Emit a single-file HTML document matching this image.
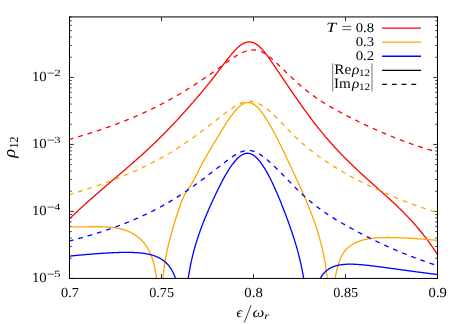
<!DOCTYPE html>
<html><head><meta charset="utf-8"><title>plot</title>
<style>html,body{margin:0;padding:0;background:#fff;overflow:hidden}svg{display:block}</style>
</head><body>
<svg width="463" height="324" viewBox="0 0 463 324">
<rect width="463" height="324" fill="#fff"/>
<defs><clipPath id="c"><rect x="69.50" y="16.93" width="368.00" height="261.50"/></clipPath></defs>
<g stroke="#000" stroke-width="0.8" fill="none">
<path d="M69.50,278.43 h4.30 M437.50,278.43 h-4.30 M69.50,258.26 h2.20 M437.50,258.26 h-2.20 M69.50,246.46 h2.20 M437.50,246.46 h-2.20 M69.50,238.09 h2.20 M437.50,238.09 h-2.20 M69.50,231.60 h2.20 M437.50,231.60 h-2.20 M69.50,226.29 h2.20 M437.50,226.29 h-2.20 M69.50,221.81 h2.20 M437.50,221.81 h-2.20 M69.50,217.92 h2.20 M437.50,217.92 h-2.20 M69.50,214.50 h2.20 M437.50,214.50 h-2.20 M69.50,211.43 h4.30 M437.50,211.43 h-4.30 M69.50,191.26 h2.20 M437.50,191.26 h-2.20 M69.50,179.46 h2.20 M437.50,179.46 h-2.20 M69.50,171.09 h2.20 M437.50,171.09 h-2.20 M69.50,164.60 h2.20 M437.50,164.60 h-2.20 M69.50,159.29 h2.20 M437.50,159.29 h-2.20 M69.50,154.81 h2.20 M437.50,154.81 h-2.20 M69.50,150.92 h2.20 M437.50,150.92 h-2.20 M69.50,147.50 h2.20 M437.50,147.50 h-2.20 M69.50,144.43 h4.30 M437.50,144.43 h-4.30 M69.50,124.26 h2.20 M437.50,124.26 h-2.20 M69.50,112.46 h2.20 M437.50,112.46 h-2.20 M69.50,104.09 h2.20 M437.50,104.09 h-2.20 M69.50,97.60 h2.20 M437.50,97.60 h-2.20 M69.50,92.29 h2.20 M437.50,92.29 h-2.20 M69.50,87.81 h2.20 M437.50,87.81 h-2.20 M69.50,83.92 h2.20 M437.50,83.92 h-2.20 M69.50,80.50 h2.20 M437.50,80.50 h-2.20 M69.50,77.43 h4.30 M437.50,77.43 h-4.30 M69.50,57.26 h2.20 M437.50,57.26 h-2.20 M69.50,45.46 h2.20 M437.50,45.46 h-2.20 M69.50,37.09 h2.20 M437.50,37.09 h-2.20 M69.50,30.60 h2.20 M437.50,30.60 h-2.20 M69.50,25.29 h2.20 M437.50,25.29 h-2.20 M69.50,20.81 h2.20 M437.50,20.81 h-2.20 M69.50,16.92 h2.20 M437.50,16.92 h-2.20 M69.50,278.43 v-4.3 M69.50,16.93 v4.3 M161.50,278.43 v-4.3 M161.50,16.93 v4.3 M253.50,278.43 v-4.3 M253.50,16.93 v4.3 M345.50,278.43 v-4.3 M345.50,16.93 v4.3 M437.50,278.43 v-4.3 M437.50,16.93 v4.3"/>
</g>
<g clip-path="url(#c)" fill="none" stroke-width="1.30" stroke-linejoin="round">
<path d="M69.50,218.79 L69.91,218.40 L70.32,218.00 L70.73,217.61 L71.14,217.21 L71.55,216.82 L71.96,216.43 L72.37,216.03 L72.77,215.64 L73.18,215.25 L73.59,214.86 L74.00,214.48 L74.41,214.09 L74.82,213.70 L75.23,213.31 L75.64,212.93 L76.05,212.55 L76.46,212.16 L76.87,211.78 L77.28,211.40 L77.69,211.02 L78.10,210.63 L78.51,210.25 L78.91,209.88 L79.32,209.50 L79.73,209.12 L80.14,208.74 L80.55,208.37 L80.96,207.99 L81.37,207.61 L81.78,207.24 L82.19,206.87 L82.60,206.49 L83.01,206.12 L83.42,205.75 L83.83,205.38 L84.24,205.01 L84.65,204.64 L85.06,204.27 L85.46,203.90 L85.87,203.53 L86.28,203.16 L86.69,202.80 L87.10,202.43 L87.51,202.06 L87.92,201.70 L88.33,201.33 L88.74,200.97 L89.15,200.60 L89.56,200.24 L89.97,199.88 L90.38,199.52 L90.79,199.15 L91.20,198.79 L91.60,198.43 L92.01,198.07 L92.42,197.71 L92.83,197.35 L93.24,196.99 L93.65,196.63 L94.06,196.27 L94.47,195.91 L94.88,195.56 L95.29,195.20 L95.70,194.84 L96.11,194.49 L96.52,194.13 L96.93,193.77 L97.34,193.42 L97.74,193.06 L98.15,192.71 L98.56,192.35 L98.97,192.00 L99.38,191.64 L99.79,191.29 L100.20,190.94 L100.61,190.58 L101.02,190.23 L101.43,189.88 L101.84,189.53 L102.25,189.17 L102.66,188.82 L103.07,188.47 L103.48,188.12 L103.88,187.77 L104.29,187.42 L104.70,187.06 L105.11,186.71 L105.52,186.36 L105.93,186.01 L106.34,185.66 L106.75,185.31 L107.16,184.96 L107.57,184.61 L107.98,184.26 L108.39,183.91 L108.80,183.56 L109.21,183.21 L109.62,182.86 L110.03,182.51 L110.43,182.16 L110.84,181.82 L111.25,181.47 L111.66,181.12 L112.07,180.77 L112.48,180.42 L112.89,180.07 L113.30,179.72 L113.71,179.37 L114.12,179.02 L114.53,178.67 L114.94,178.32 L115.35,177.97 L115.76,177.62 L116.17,177.28 L116.57,176.93 L116.98,176.58 L117.39,176.23 L117.80,175.88 L118.21,175.53 L118.62,175.18 L119.03,174.83 L119.44,174.48 L119.85,174.13 L120.26,173.78 L120.67,173.43 L121.08,173.08 L121.49,172.72 L121.90,172.37 L122.31,172.02 L122.71,171.67 L123.12,171.32 L123.53,170.97 L123.94,170.62 L124.35,170.26 L124.76,169.91 L125.17,169.56 L125.58,169.20 L125.99,168.85 L126.40,168.50 L126.81,168.14 L127.22,167.79 L127.63,167.44 L128.04,167.08 L128.45,166.73 L128.85,166.37 L129.26,166.02 L129.67,165.66 L130.08,165.30 L130.49,164.95 L130.90,164.59 L131.31,164.23 L131.72,163.87 L132.13,163.52 L132.54,163.16 L132.95,162.80 L133.36,162.44 L133.77,162.08 L134.18,161.72 L134.59,161.36 L134.99,161.00 L135.40,160.63 L135.81,160.27 L136.22,159.91 L136.63,159.55 L137.04,159.18 L137.45,158.82 L137.86,158.45 L138.27,158.09 L138.68,157.72 L139.09,157.36 L139.50,156.99 L139.91,156.62 L140.32,156.26 L140.73,155.89 L141.14,155.52 L141.54,155.15 L141.95,154.78 L142.36,154.41 L142.77,154.04 L143.18,153.67 L143.59,153.29 L144.00,152.92 L144.41,152.55 L144.82,152.17 L145.23,151.80 L145.64,151.42 L146.05,151.04 L146.46,150.67 L146.87,150.29 L147.28,149.91 L147.68,149.53 L148.09,149.15 L148.50,148.77 L148.91,148.39 L149.32,148.01 L149.73,147.62 L150.14,147.24 L150.55,146.86 L150.96,146.47 L151.37,146.08 L151.78,145.70 L152.19,145.31 L152.60,144.92 L153.01,144.53 L153.42,144.14 L153.82,143.75 L154.23,143.36 L154.64,142.97 L155.05,142.57 L155.46,142.18 L155.87,141.78 L156.28,141.39 L156.69,140.99 L157.10,140.59 L157.51,140.19 L157.92,139.79 L158.33,139.39 L158.74,138.99 L159.15,138.59 L159.56,138.18 L159.96,137.78 L160.37,137.37 L160.78,136.97 L161.19,136.56 L161.60,136.15 L162.01,135.74 L162.42,135.33 L162.83,134.92 L163.24,134.51 L163.65,134.09 L164.06,133.68 L164.47,133.26 L164.88,132.85 L165.29,132.43 L165.70,132.01 L166.11,131.59 L166.51,131.18 L166.92,130.75 L167.33,130.33 L167.74,129.91 L168.15,129.49 L168.56,129.06 L168.97,128.64 L169.38,128.21 L169.79,127.79 L170.20,127.36 L170.61,126.93 L171.02,126.50 L171.43,126.07 L171.84,125.64 L172.25,125.21 L172.65,124.78 L173.06,124.34 L173.47,123.91 L173.88,123.47 L174.29,123.04 L174.70,122.60 L175.11,122.16 L175.52,121.72 L175.93,121.28 L176.34,120.84 L176.75,120.40 L177.16,119.96 L177.57,119.52 L177.98,119.07 L178.39,118.63 L178.79,118.19 L179.20,117.74 L179.61,117.29 L180.02,116.85 L180.43,116.40 L180.84,115.95 L181.25,115.50 L181.66,115.05 L182.07,114.60 L182.48,114.15 L182.89,113.69 L183.30,113.24 L183.71,112.79 L184.12,112.33 L184.53,111.88 L184.93,111.42 L185.34,110.96 L185.75,110.50 L186.16,110.04 L186.57,109.59 L186.98,109.13 L187.39,108.66 L187.80,108.20 L188.21,107.74 L188.62,107.28 L189.03,106.81 L189.44,106.35 L189.85,105.89 L190.26,105.42 L190.67,104.95 L191.08,104.49 L191.48,104.02 L191.89,103.55 L192.30,103.08 L192.71,102.61 L193.12,102.14 L193.53,101.67 L193.94,101.20 L194.35,100.73 L194.76,100.25 L195.17,99.78 L195.58,99.31 L195.99,98.83 L196.40,98.35 L196.81,97.88 L197.22,97.40 L197.62,96.92 L198.03,96.44 L198.44,95.96 L198.85,95.48 L199.26,95.00 L199.67,94.52 L200.08,94.03 L200.49,93.55 L200.90,93.06 L201.31,92.58 L201.72,92.09 L202.13,91.60 L202.54,91.11 L202.95,90.62 L203.36,90.13 L203.76,89.64 L204.17,89.14 L204.58,88.65 L204.99,88.15 L205.40,87.65 L205.81,87.15 L206.22,86.65 L206.63,86.15 L207.04,85.65 L207.45,85.15 L207.86,84.64 L208.27,84.13 L208.68,83.63 L209.09,83.12 L209.50,82.60 L209.90,82.09 L210.31,81.58 L210.72,81.06 L211.13,80.55 L211.54,80.03 L211.95,79.51 L212.36,78.99 L212.77,78.46 L213.18,77.94 L213.59,77.41 L214.00,76.89 L214.41,76.36 L214.82,75.83 L215.23,75.30 L215.64,74.76 L216.05,74.23 L216.45,73.70 L216.86,73.16 L217.27,72.62 L217.68,72.09 L218.09,71.55 L218.50,71.01 L218.91,70.47 L219.32,69.94 L219.73,69.40 L220.14,68.86 L220.55,68.32 L220.96,67.78 L221.37,67.24 L221.78,66.70 L222.19,66.17 L222.59,65.63 L223.00,65.09 L223.41,64.55 L223.82,64.02 L224.23,63.48 L224.64,62.95 L225.05,62.41 L225.46,61.88 L225.87,61.35 L226.28,60.82 L226.69,60.29 L227.10,59.76 L227.51,59.24 L227.92,58.71 L228.33,58.19 L228.73,57.67 L229.14,57.16 L229.55,56.65 L229.96,56.14 L230.37,55.63 L230.78,55.13 L231.19,54.64 L231.60,54.15 L232.01,53.66 L232.42,53.18 L232.83,52.70 L233.24,52.24 L233.65,51.77 L234.06,51.32 L234.47,50.87 L234.87,50.43 L235.28,50.00 L235.69,49.57 L236.10,49.15 L236.51,48.75 L236.92,48.35 L237.33,47.96 L237.74,47.58 L238.15,47.20 L238.56,46.84 L238.97,46.49 L239.38,46.15 L239.79,45.82 L240.20,45.51 L240.61,45.20 L241.02,44.91 L241.42,44.63 L241.83,44.36 L242.24,44.10 L242.65,43.86 L243.06,43.63 L243.47,43.42 L243.88,43.22 L244.29,43.03 L244.70,42.86 L245.11,42.70 L245.52,42.56 L245.93,42.43 L246.34,42.32 L246.75,42.23 L247.16,42.14 L247.56,42.08 L247.97,42.03 L248.38,41.99 L248.79,41.97 L249.20,41.96 L249.61,41.97 L250.02,41.99 L250.43,42.02 L250.84,42.08 L251.25,42.14 L251.66,42.22 L252.07,42.32 L252.48,42.43 L252.89,42.55 L253.30,42.69 L253.70,42.85 L254.11,43.02 L254.52,43.20 L254.93,43.40 L255.34,43.61 L255.75,43.84 L256.16,44.08 L256.57,44.33 L256.98,44.60 L257.39,44.89 L257.80,45.19 L258.21,45.50 L258.62,45.83 L259.03,46.17 L259.44,46.53 L259.84,46.90 L260.25,47.28 L260.66,47.68 L261.07,48.09 L261.48,48.52 L261.89,48.96 L262.30,49.41 L262.71,49.87 L263.12,50.34 L263.53,50.83 L263.94,51.32 L264.35,51.83 L264.76,52.34 L265.17,52.87 L265.58,53.40 L265.98,53.94 L266.39,54.48 L266.80,55.04 L267.21,55.60 L267.62,56.16 L268.03,56.73 L268.44,57.31 L268.85,57.89 L269.26,58.47 L269.67,59.06 L270.08,59.65 L270.49,60.25 L270.90,60.84 L271.31,61.44 L271.72,62.04 L272.13,62.64 L272.53,63.23 L272.94,63.83 L273.35,64.43 L273.76,65.04 L274.17,65.64 L274.58,66.24 L274.99,66.84 L275.40,67.44 L275.81,68.04 L276.22,68.65 L276.63,69.25 L277.04,69.85 L277.45,70.46 L277.86,71.06 L278.27,71.66 L278.67,72.27 L279.08,72.87 L279.49,73.47 L279.90,74.08 L280.31,74.68 L280.72,75.29 L281.13,75.89 L281.54,76.50 L281.95,77.10 L282.36,77.70 L282.77,78.31 L283.18,78.91 L283.59,79.52 L284.00,80.12 L284.41,80.72 L284.81,81.33 L285.22,81.93 L285.63,82.53 L286.04,83.14 L286.45,83.74 L286.86,84.34 L287.27,84.94 L287.68,85.54 L288.09,86.14 L288.50,86.75 L288.91,87.35 L289.32,87.95 L289.73,88.55 L290.14,89.14 L290.55,89.74 L290.95,90.34 L291.36,90.94 L291.77,91.54 L292.18,92.13 L292.59,92.73 L293.00,93.32 L293.41,93.92 L293.82,94.51 L294.23,95.11 L294.64,95.70 L295.05,96.29 L295.46,96.88 L295.87,97.47 L296.28,98.06 L296.69,98.65 L297.10,99.24 L297.50,99.83 L297.91,100.41 L298.32,101.00 L298.73,101.58 L299.14,102.17 L299.55,102.75 L299.96,103.33 L300.37,103.91 L300.78,104.49 L301.19,105.07 L301.60,105.65 L302.01,106.22 L302.42,106.80 L302.83,107.37 L303.24,107.94 L303.64,108.52 L304.05,109.09 L304.46,109.66 L304.87,110.22 L305.28,110.79 L305.69,111.36 L306.10,111.92 L306.51,112.48 L306.92,113.05 L307.33,113.61 L307.74,114.17 L308.15,114.72 L308.56,115.28 L308.97,115.83 L309.38,116.39 L309.78,116.94 L310.19,117.49 L310.60,118.04 L311.01,118.58 L311.42,119.13 L311.83,119.67 L312.24,120.22 L312.65,120.76 L313.06,121.29 L313.47,121.83 L313.88,122.37 L314.29,122.90 L314.70,123.43 L315.11,123.96 L315.52,124.49 L315.92,125.02 L316.33,125.54 L316.74,126.07 L317.15,126.59 L317.56,127.11 L317.97,127.62 L318.38,128.14 L318.79,128.65 L319.20,129.16 L319.61,129.67 L320.02,130.18 L320.43,130.68 L320.84,131.19 L321.25,131.69 L321.66,132.19 L322.07,132.69 L322.47,133.18 L322.88,133.68 L323.29,134.17 L323.70,134.66 L324.11,135.15 L324.52,135.63 L324.93,136.12 L325.34,136.60 L325.75,137.08 L326.16,137.56 L326.57,138.04 L326.98,138.52 L327.39,138.99 L327.80,139.46 L328.21,139.93 L328.61,140.40 L329.02,140.87 L329.43,141.34 L329.84,141.80 L330.25,142.26 L330.66,142.72 L331.07,143.18 L331.48,143.64 L331.89,144.10 L332.30,144.55 L332.71,145.01 L333.12,145.46 L333.53,145.91 L333.94,146.36 L334.35,146.80 L334.75,147.25 L335.16,147.69 L335.57,148.14 L335.98,148.58 L336.39,149.02 L336.80,149.46 L337.21,149.89 L337.62,150.33 L338.03,150.76 L338.44,151.20 L338.85,151.63 L339.26,152.06 L339.67,152.49 L340.08,152.91 L340.49,153.34 L340.89,153.77 L341.30,154.19 L341.71,154.61 L342.12,155.03 L342.53,155.45 L342.94,155.87 L343.35,156.29 L343.76,156.71 L344.17,157.12 L344.58,157.54 L344.99,157.95 L345.40,158.36 L345.81,158.77 L346.22,159.18 L346.63,159.59 L347.04,160.00 L347.44,160.40 L347.85,160.81 L348.26,161.21 L348.67,161.62 L349.08,162.02 L349.49,162.42 L349.90,162.82 L350.31,163.22 L350.72,163.62 L351.13,164.01 L351.54,164.41 L351.95,164.80 L352.36,165.20 L352.77,165.59 L353.18,165.99 L353.58,166.38 L353.99,166.77 L354.40,167.16 L354.81,167.55 L355.22,167.94 L355.63,168.32 L356.04,168.71 L356.45,169.10 L356.86,169.48 L357.27,169.87 L357.68,170.25 L358.09,170.63 L358.50,171.01 L358.91,171.40 L359.32,171.78 L359.72,172.16 L360.13,172.54 L360.54,172.92 L360.95,173.29 L361.36,173.67 L361.77,174.05 L362.18,174.43 L362.59,174.80 L363.00,175.18 L363.41,175.55 L363.82,175.93 L364.23,176.30 L364.64,176.67 L365.05,177.04 L365.46,177.42 L365.86,177.79 L366.27,178.16 L366.68,178.53 L367.09,178.90 L367.50,179.27 L367.91,179.64 L368.32,180.01 L368.73,180.38 L369.14,180.75 L369.55,181.11 L369.96,181.48 L370.37,181.85 L370.78,182.22 L371.19,182.58 L371.60,182.95 L372.01,183.31 L372.41,183.68 L372.82,184.05 L373.23,184.41 L373.64,184.78 L374.05,185.14 L374.46,185.51 L374.87,185.87 L375.28,186.23 L375.69,186.60 L376.10,186.96 L376.51,187.33 L376.92,187.69 L377.33,188.05 L377.74,188.42 L378.15,188.78 L378.55,189.15 L378.96,189.51 L379.37,189.87 L379.78,190.24 L380.19,190.60 L380.60,190.97 L381.01,191.33 L381.42,191.70 L381.83,192.06 L382.24,192.43 L382.65,192.80 L383.06,193.16 L383.47,193.53 L383.88,193.89 L384.29,194.26 L384.69,194.63 L385.10,195.00 L385.51,195.37 L385.92,195.74 L386.33,196.11 L386.74,196.48 L387.15,196.85 L387.56,197.22 L387.97,197.59 L388.38,197.96 L388.79,198.34 L389.20,198.71 L389.61,199.08 L390.02,199.46 L390.43,199.84 L390.83,200.21 L391.24,200.59 L391.65,200.97 L392.06,201.35 L392.47,201.73 L392.88,202.11 L393.29,202.49 L393.70,202.88 L394.11,203.26 L394.52,203.65 L394.93,204.03 L395.34,204.42 L395.75,204.81 L396.16,205.20 L396.57,205.59 L396.97,205.98 L397.38,206.37 L397.79,206.77 L398.20,207.16 L398.61,207.56 L399.02,207.95 L399.43,208.35 L399.84,208.75 L400.25,209.16 L400.66,209.56 L401.07,209.96 L401.48,210.37 L401.89,210.78 L402.30,211.19 L402.71,211.60 L403.12,212.01 L403.52,212.42 L403.93,212.84 L404.34,213.25 L404.75,213.67 L405.16,214.09 L405.57,214.51 L405.98,214.93 L406.39,215.36 L406.80,215.79 L407.21,216.21 L407.62,216.64 L408.03,217.08 L408.44,217.51 L408.85,217.95 L409.26,218.38 L409.66,218.82 L410.07,219.26 L410.48,219.71 L410.89,220.15 L411.30,220.60 L411.71,221.05 L412.12,221.50 L412.53,221.95 L412.94,222.41 L413.35,222.87 L413.76,223.32 L414.17,223.79 L414.58,224.25 L414.99,224.72 L415.40,225.19 L415.80,225.66 L416.21,226.13 L416.62,226.60 L417.03,227.08 L417.44,227.56 L417.85,228.04 L418.26,228.53 L418.67,229.02 L419.08,229.51 L419.49,230.00 L419.90,230.49 L420.31,230.99 L420.72,231.49 L421.13,231.99 L421.54,232.50 L421.94,233.01 L422.35,233.52 L422.76,234.03 L423.17,234.55 L423.58,235.06 L423.99,235.59 L424.40,236.11 L424.81,236.64 L425.22,237.17 L425.63,237.70 L426.04,238.23 L426.45,238.77 L426.86,239.31 L427.27,239.86 L427.68,240.40 L428.09,240.95 L428.49,241.51 L428.90,242.06 L429.31,242.62 L429.72,243.19 L430.13,243.75 L430.54,244.32 L430.95,244.89 L431.36,245.47 L431.77,246.04 L432.18,246.63 L432.59,247.21 L433.00,247.80 L433.41,248.39 L433.82,248.98 L434.23,249.58 L434.63,250.18 L435.04,250.79 L435.45,251.40 L435.86,252.01 L436.27,252.62 L436.68,253.24 L437.09,253.86 L437.50,254.49" stroke="#ff0000"/>
<path d="M69.50,139.35 L69.91,139.23 L70.32,139.11 L70.73,139.00 L71.14,138.88 L71.55,138.76 L71.96,138.64 L72.37,138.52 L72.77,138.40 L73.18,138.28 L73.59,138.17 L74.00,138.05 L74.41,137.93 L74.82,137.81 L75.23,137.69 L75.64,137.57 L76.05,137.45 L76.46,137.32 L76.87,137.20 L77.28,137.08 L77.69,136.96 L78.10,136.84 L78.51,136.72 L78.91,136.59 L79.32,136.47 L79.73,136.35 L80.14,136.23 L80.55,136.10 L80.96,135.98 L81.37,135.86 L81.78,135.73 L82.19,135.61 L82.60,135.48 L83.01,135.36 L83.42,135.23 L83.83,135.11 L84.24,134.98 L84.65,134.86 L85.06,134.73 L85.46,134.60 L85.87,134.48 L86.28,134.35 L86.69,134.22 L87.10,134.09 L87.51,133.97 L87.92,133.84 L88.33,133.71 L88.74,133.58 L89.15,133.45 L89.56,133.32 L89.97,133.19 L90.38,133.06 L90.79,132.93 L91.20,132.80 L91.60,132.67 L92.01,132.54 L92.42,132.41 L92.83,132.28 L93.24,132.14 L93.65,132.01 L94.06,131.88 L94.47,131.75 L94.88,131.61 L95.29,131.48 L95.70,131.35 L96.11,131.21 L96.52,131.08 L96.93,130.94 L97.34,130.81 L97.74,130.67 L98.15,130.53 L98.56,130.40 L98.97,130.26 L99.38,130.12 L99.79,129.99 L100.20,129.85 L100.61,129.71 L101.02,129.57 L101.43,129.43 L101.84,129.29 L102.25,129.15 L102.66,129.01 L103.07,128.87 L103.48,128.73 L103.88,128.59 L104.29,128.45 L104.70,128.31 L105.11,128.17 L105.52,128.02 L105.93,127.88 L106.34,127.74 L106.75,127.59 L107.16,127.45 L107.57,127.31 L107.98,127.16 L108.39,127.02 L108.80,126.87 L109.21,126.72 L109.62,126.58 L110.03,126.43 L110.43,126.28 L110.84,126.14 L111.25,125.99 L111.66,125.84 L112.07,125.69 L112.48,125.54 L112.89,125.39 L113.30,125.24 L113.71,125.09 L114.12,124.94 L114.53,124.79 L114.94,124.64 L115.35,124.49 L115.76,124.33 L116.17,124.18 L116.57,124.03 L116.98,123.87 L117.39,123.72 L117.80,123.56 L118.21,123.41 L118.62,123.25 L119.03,123.10 L119.44,122.94 L119.85,122.78 L120.26,122.63 L120.67,122.47 L121.08,122.31 L121.49,122.15 L121.90,121.99 L122.31,121.83 L122.71,121.67 L123.12,121.51 L123.53,121.35 L123.94,121.19 L124.35,121.03 L124.76,120.87 L125.17,120.70 L125.58,120.54 L125.99,120.38 L126.40,120.21 L126.81,120.05 L127.22,119.88 L127.63,119.72 L128.04,119.55 L128.45,119.38 L128.85,119.21 L129.26,119.05 L129.67,118.88 L130.08,118.71 L130.49,118.54 L130.90,118.37 L131.31,118.20 L131.72,118.03 L132.13,117.86 L132.54,117.69 L132.95,117.52 L133.36,117.34 L133.77,117.17 L134.18,117.00 L134.59,116.82 L134.99,116.65 L135.40,116.47 L135.81,116.30 L136.22,116.12 L136.63,115.94 L137.04,115.76 L137.45,115.59 L137.86,115.41 L138.27,115.23 L138.68,115.05 L139.09,114.87 L139.50,114.69 L139.91,114.51 L140.32,114.33 L140.73,114.14 L141.14,113.96 L141.54,113.78 L141.95,113.59 L142.36,113.41 L142.77,113.22 L143.18,113.04 L143.59,112.85 L144.00,112.67 L144.41,112.48 L144.82,112.29 L145.23,112.10 L145.64,111.91 L146.05,111.72 L146.46,111.53 L146.87,111.34 L147.28,111.15 L147.68,110.96 L148.09,110.77 L148.50,110.57 L148.91,110.38 L149.32,110.19 L149.73,109.99 L150.14,109.80 L150.55,109.60 L150.96,109.40 L151.37,109.21 L151.78,109.01 L152.19,108.81 L152.60,108.61 L153.01,108.41 L153.42,108.21 L153.82,108.01 L154.23,107.81 L154.64,107.61 L155.05,107.40 L155.46,107.20 L155.87,107.00 L156.28,106.79 L156.69,106.59 L157.10,106.38 L157.51,106.17 L157.92,105.97 L158.33,105.76 L158.74,105.55 L159.15,105.34 L159.56,105.13 L159.96,104.92 L160.37,104.71 L160.78,104.50 L161.19,104.29 L161.60,104.07 L162.01,103.86 L162.42,103.65 L162.83,103.43 L163.24,103.22 L163.65,103.00 L164.06,102.78 L164.47,102.57 L164.88,102.35 L165.29,102.13 L165.70,101.91 L166.11,101.69 L166.51,101.47 L166.92,101.25 L167.33,101.03 L167.74,100.80 L168.15,100.58 L168.56,100.36 L168.97,100.13 L169.38,99.90 L169.79,99.68 L170.20,99.45 L170.61,99.22 L171.02,99.00 L171.43,98.77 L171.84,98.54 L172.25,98.31 L172.65,98.08 L173.06,97.84 L173.47,97.61 L173.88,97.38 L174.29,97.15 L174.70,96.91 L175.11,96.68 L175.52,96.44 L175.93,96.20 L176.34,95.97 L176.75,95.73 L177.16,95.49 L177.57,95.25 L177.98,95.01 L178.39,94.77 L178.79,94.53 L179.20,94.29 L179.61,94.05 L180.02,93.80 L180.43,93.56 L180.84,93.32 L181.25,93.07 L181.66,92.83 L182.07,92.58 L182.48,92.33 L182.89,92.09 L183.30,91.84 L183.71,91.59 L184.12,91.34 L184.53,91.09 L184.93,90.84 L185.34,90.59 L185.75,90.34 L186.16,90.08 L186.57,89.83 L186.98,89.58 L187.39,89.32 L187.80,89.07 L188.21,88.81 L188.62,88.56 L189.03,88.30 L189.44,88.04 L189.85,87.79 L190.26,87.53 L190.67,87.27 L191.08,87.01 L191.48,86.75 L191.89,86.49 L192.30,86.23 L192.71,85.96 L193.12,85.70 L193.53,85.44 L193.94,85.17 L194.35,84.91 L194.76,84.65 L195.17,84.38 L195.58,84.11 L195.99,83.85 L196.40,83.58 L196.81,83.31 L197.22,83.04 L197.62,82.77 L198.03,82.50 L198.44,82.23 L198.85,81.96 L199.26,81.69 L199.67,81.42 L200.08,81.15 L200.49,80.88 L200.90,80.60 L201.31,80.33 L201.72,80.05 L202.13,79.78 L202.54,79.50 L202.95,79.23 L203.36,78.95 L203.76,78.67 L204.17,78.39 L204.58,78.12 L204.99,77.84 L205.40,77.56 L205.81,77.28 L206.22,77.00 L206.63,76.72 L207.04,76.43 L207.45,76.15 L207.86,75.87 L208.27,75.59 L208.68,75.30 L209.09,75.02 L209.50,74.73 L209.90,74.45 L210.31,74.16 L210.72,73.88 L211.13,73.59 L211.54,73.30 L211.95,73.01 L212.36,72.73 L212.77,72.44 L213.18,72.15 L213.59,71.86 L214.00,71.57 L214.41,71.28 L214.82,70.98 L215.23,70.69 L215.64,70.40 L216.05,70.11 L216.45,69.81 L216.86,69.52 L217.27,69.23 L217.68,68.93 L218.09,68.64 L218.50,68.34 L218.91,68.04 L219.32,67.75 L219.73,67.45 L220.14,67.15 L220.55,66.85 L220.96,66.56 L221.37,66.26 L221.78,65.96 L222.19,65.66 L222.59,65.36 L223.00,65.06 L223.41,64.75 L223.82,64.45 L224.23,64.15 L224.64,63.85 L225.05,63.55 L225.46,63.25 L225.87,62.95 L226.28,62.65 L226.69,62.35 L227.10,62.05 L227.51,61.75 L227.92,61.45 L228.33,61.16 L228.73,60.86 L229.14,60.57 L229.55,60.28 L229.96,59.99 L230.37,59.70 L230.78,59.41 L231.19,59.13 L231.60,58.85 L232.01,58.57 L232.42,58.29 L232.83,58.01 L233.24,57.74 L233.65,57.47 L234.06,57.20 L234.47,56.93 L234.87,56.67 L235.28,56.41 L235.69,56.16 L236.10,55.91 L236.51,55.66 L236.92,55.41 L237.33,55.17 L237.74,54.93 L238.15,54.70 L238.56,54.47 L238.97,54.24 L239.38,54.02 L239.79,53.81 L240.20,53.59 L240.61,53.39 L241.02,53.18 L241.42,52.99 L241.83,52.79 L242.24,52.61 L242.65,52.42 L243.06,52.25 L243.47,52.08 L243.88,51.91 L244.29,51.75 L244.70,51.60 L245.11,51.45 L245.52,51.30 L245.93,51.17 L246.34,51.04 L246.75,50.92 L247.16,50.80 L247.56,50.69 L247.97,50.59 L248.38,50.49 L248.79,50.40 L249.20,50.32 L249.61,50.24 L250.02,50.18 L250.43,50.12 L250.84,50.06 L251.25,50.02 L251.66,49.98 L252.07,49.95 L252.48,49.93 L252.89,49.92 L253.30,49.92 L253.70,49.92 L254.11,49.93 L254.52,49.96 L254.93,49.99 L255.34,50.03 L255.75,50.07 L256.16,50.13 L256.57,50.20 L256.98,50.28 L257.39,50.36 L257.80,50.46 L258.21,50.56 L258.62,50.68 L259.03,50.80 L259.44,50.94 L259.84,51.08 L260.25,51.24 L260.66,51.40 L261.07,51.58 L261.48,51.76 L261.89,51.95 L262.30,52.15 L262.71,52.36 L263.12,52.57 L263.53,52.80 L263.94,53.03 L264.35,53.27 L264.76,53.52 L265.17,53.78 L265.58,54.04 L265.98,54.31 L266.39,54.58 L266.80,54.87 L267.21,55.16 L267.62,55.45 L268.03,55.75 L268.44,56.06 L268.85,56.37 L269.26,56.69 L269.67,57.01 L270.08,57.34 L270.49,57.68 L270.90,58.01 L271.31,58.36 L271.72,58.70 L272.13,59.05 L272.53,59.41 L272.94,59.77 L273.35,60.13 L273.76,60.49 L274.17,60.86 L274.58,61.23 L274.99,61.61 L275.40,61.98 L275.81,62.36 L276.22,62.74 L276.63,63.13 L277.04,63.51 L277.45,63.90 L277.86,64.29 L278.27,64.67 L278.67,65.06 L279.08,65.46 L279.49,65.85 L279.90,66.24 L280.31,66.63 L280.72,67.02 L281.13,67.42 L281.54,67.81 L281.95,68.21 L282.36,68.60 L282.77,68.99 L283.18,69.39 L283.59,69.78 L284.00,70.18 L284.41,70.58 L284.81,70.97 L285.22,71.37 L285.63,71.76 L286.04,72.16 L286.45,72.55 L286.86,72.94 L287.27,73.34 L287.68,73.73 L288.09,74.12 L288.50,74.52 L288.91,74.91 L289.32,75.30 L289.73,75.69 L290.14,76.08 L290.55,76.47 L290.95,76.86 L291.36,77.25 L291.77,77.64 L292.18,78.02 L292.59,78.41 L293.00,78.79 L293.41,79.17 L293.82,79.55 L294.23,79.93 L294.64,80.31 L295.05,80.69 L295.46,81.07 L295.87,81.44 L296.28,81.82 L296.69,82.19 L297.10,82.56 L297.50,82.93 L297.91,83.30 L298.32,83.66 L298.73,84.03 L299.14,84.39 L299.55,84.75 L299.96,85.11 L300.37,85.46 L300.78,85.82 L301.19,86.17 L301.60,86.52 L302.01,86.87 L302.42,87.21 L302.83,87.56 L303.24,87.90 L303.64,88.24 L304.05,88.57 L304.46,88.91 L304.87,89.24 L305.28,89.57 L305.69,89.90 L306.10,90.23 L306.51,90.56 L306.92,90.88 L307.33,91.20 L307.74,91.52 L308.15,91.84 L308.56,92.16 L308.97,92.47 L309.38,92.79 L309.78,93.10 L310.19,93.41 L310.60,93.71 L311.01,94.02 L311.42,94.32 L311.83,94.63 L312.24,94.93 L312.65,95.22 L313.06,95.52 L313.47,95.82 L313.88,96.11 L314.29,96.40 L314.70,96.69 L315.11,96.98 L315.52,97.27 L315.92,97.56 L316.33,97.84 L316.74,98.12 L317.15,98.40 L317.56,98.68 L317.97,98.96 L318.38,99.24 L318.79,99.51 L319.20,99.79 L319.61,100.06 L320.02,100.33 L320.43,100.60 L320.84,100.87 L321.25,101.14 L321.66,101.40 L322.07,101.66 L322.47,101.93 L322.88,102.19 L323.29,102.45 L323.70,102.71 L324.11,102.97 L324.52,103.22 L324.93,103.48 L325.34,103.73 L325.75,103.98 L326.16,104.23 L326.57,104.48 L326.98,104.73 L327.39,104.98 L327.80,105.23 L328.21,105.47 L328.61,105.72 L329.02,105.96 L329.43,106.20 L329.84,106.45 L330.25,106.69 L330.66,106.93 L331.07,107.16 L331.48,107.40 L331.89,107.64 L332.30,107.87 L332.71,108.11 L333.12,108.34 L333.53,108.57 L333.94,108.81 L334.35,109.04 L334.75,109.27 L335.16,109.50 L335.57,109.72 L335.98,109.95 L336.39,110.18 L336.80,110.40 L337.21,110.63 L337.62,110.85 L338.03,111.08 L338.44,111.30 L338.85,111.52 L339.26,111.74 L339.67,111.96 L340.08,112.18 L340.49,112.40 L340.89,112.62 L341.30,112.84 L341.71,113.06 L342.12,113.27 L342.53,113.49 L342.94,113.71 L343.35,113.92 L343.76,114.14 L344.17,114.35 L344.58,114.56 L344.99,114.78 L345.40,114.99 L345.81,115.20 L346.22,115.41 L346.63,115.62 L347.04,115.84 L347.44,116.05 L347.85,116.26 L348.26,116.47 L348.67,116.68 L349.08,116.88 L349.49,117.09 L349.90,117.30 L350.31,117.51 L350.72,117.72 L351.13,117.92 L351.54,118.13 L351.95,118.34 L352.36,118.54 L352.77,118.75 L353.18,118.95 L353.58,119.16 L353.99,119.36 L354.40,119.57 L354.81,119.77 L355.22,119.97 L355.63,120.18 L356.04,120.38 L356.45,120.58 L356.86,120.78 L357.27,120.98 L357.68,121.18 L358.09,121.39 L358.50,121.59 L358.91,121.79 L359.32,121.98 L359.72,122.18 L360.13,122.38 L360.54,122.58 L360.95,122.78 L361.36,122.98 L361.77,123.17 L362.18,123.37 L362.59,123.56 L363.00,123.76 L363.41,123.96 L363.82,124.15 L364.23,124.35 L364.64,124.54 L365.05,124.73 L365.46,124.93 L365.86,125.12 L366.27,125.31 L366.68,125.50 L367.09,125.70 L367.50,125.89 L367.91,126.08 L368.32,126.27 L368.73,126.46 L369.14,126.65 L369.55,126.84 L369.96,127.03 L370.37,127.22 L370.78,127.40 L371.19,127.59 L371.60,127.78 L372.01,127.97 L372.41,128.15 L372.82,128.34 L373.23,128.52 L373.64,128.71 L374.05,128.89 L374.46,129.08 L374.87,129.26 L375.28,129.45 L375.69,129.63 L376.10,129.81 L376.51,129.99 L376.92,130.17 L377.33,130.36 L377.74,130.54 L378.15,130.72 L378.55,130.90 L378.96,131.08 L379.37,131.26 L379.78,131.44 L380.19,131.61 L380.60,131.79 L381.01,131.97 L381.42,132.15 L381.83,132.32 L382.24,132.50 L382.65,132.68 L383.06,132.85 L383.47,133.03 L383.88,133.20 L384.29,133.37 L384.69,133.55 L385.10,133.72 L385.51,133.89 L385.92,134.07 L386.33,134.24 L386.74,134.41 L387.15,134.58 L387.56,134.75 L387.97,134.92 L388.38,135.09 L388.79,135.26 L389.20,135.43 L389.61,135.60 L390.02,135.77 L390.43,135.93 L390.83,136.10 L391.24,136.27 L391.65,136.43 L392.06,136.60 L392.47,136.77 L392.88,136.93 L393.29,137.10 L393.70,137.26 L394.11,137.42 L394.52,137.59 L394.93,137.75 L395.34,137.91 L395.75,138.07 L396.16,138.23 L396.57,138.39 L396.97,138.56 L397.38,138.72 L397.79,138.87 L398.20,139.03 L398.61,139.19 L399.02,139.35 L399.43,139.51 L399.84,139.67 L400.25,139.82 L400.66,139.98 L401.07,140.13 L401.48,140.29 L401.89,140.44 L402.30,140.60 L402.71,140.75 L403.12,140.91 L403.52,141.06 L403.93,141.21 L404.34,141.36 L404.75,141.52 L405.16,141.67 L405.57,141.82 L405.98,141.97 L406.39,142.12 L406.80,142.27 L407.21,142.42 L407.62,142.57 L408.03,142.71 L408.44,142.86 L408.85,143.01 L409.26,143.15 L409.66,143.30 L410.07,143.45 L410.48,143.59 L410.89,143.74 L411.30,143.88 L411.71,144.02 L412.12,144.17 L412.53,144.31 L412.94,144.45 L413.35,144.59 L413.76,144.74 L414.17,144.88 L414.58,145.02 L414.99,145.16 L415.40,145.30 L415.80,145.44 L416.21,145.57 L416.62,145.71 L417.03,145.85 L417.44,145.99 L417.85,146.12 L418.26,146.26 L418.67,146.39 L419.08,146.53 L419.49,146.66 L419.90,146.80 L420.31,146.93 L420.72,147.06 L421.13,147.20 L421.54,147.33 L421.94,147.46 L422.35,147.59 L422.76,147.72 L423.17,147.85 L423.58,147.98 L423.99,148.11 L424.40,148.24 L424.81,148.37 L425.22,148.50 L425.63,148.62 L426.04,148.75 L426.45,148.88 L426.86,149.00 L427.27,149.13 L427.68,149.25 L428.09,149.38 L428.49,149.50 L428.90,149.62 L429.31,149.75 L429.72,149.87 L430.13,149.99 L430.54,150.11 L430.95,150.23 L431.36,150.35 L431.77,150.47 L432.18,150.59 L432.59,150.71 L433.00,150.83 L433.41,150.95 L433.82,151.06 L434.23,151.18 L434.63,151.30 L435.04,151.41 L435.45,151.53 L435.86,151.64 L436.27,151.76 L436.68,151.87 L437.09,151.98 L437.50,152.09" stroke="#ff0000" stroke-dasharray="4.8 4.96" stroke-dashoffset="0.8"/>
<path d="M69.50,226.75 L69.91,226.77 L70.32,226.78 L70.73,226.79 L71.14,226.81 L71.55,226.82 L71.96,226.83 L72.37,226.84 L72.77,226.84 L73.18,226.85 L73.59,226.86 L74.00,226.87 L74.41,226.87 L74.82,226.88 L75.23,226.88 L75.64,226.88 L76.05,226.89 L76.46,226.89 L76.87,226.89 L77.28,226.89 L77.69,226.89 L78.10,226.89 L78.51,226.89 L78.91,226.89 L79.32,226.89 L79.73,226.89 L80.14,226.89 L80.55,226.89 L80.96,226.88 L81.37,226.88 L81.78,226.88 L82.19,226.87 L82.60,226.87 L83.01,226.86 L83.42,226.86 L83.83,226.86 L84.24,226.85 L84.65,226.85 L85.06,226.84 L85.46,226.83 L85.87,226.83 L86.28,226.82 L86.69,226.82 L87.10,226.81 L87.51,226.81 L87.92,226.80 L88.33,226.80 L88.74,226.79 L89.15,226.78 L89.56,226.78 L89.97,226.77 L90.38,226.77 L90.79,226.76 L91.20,226.76 L91.60,226.75 L92.01,226.75 L92.42,226.74 L92.83,226.74 L93.24,226.74 L93.65,226.73 L94.06,226.73 L94.47,226.73 L94.88,226.73 L95.29,226.72 L95.70,226.72 L96.11,226.72 L96.52,226.72 L96.93,226.72 L97.34,226.72 L97.74,226.73 L98.15,226.73 L98.56,226.73 L98.97,226.73 L99.38,226.74 L99.79,226.74 L100.20,226.75 L100.61,226.76 L101.02,226.76 L101.43,226.77 L101.84,226.78 L102.25,226.79 L102.66,226.80 L103.07,226.82 L103.48,226.83 L103.88,226.84 L104.29,226.86 L104.70,226.88 L105.11,226.89 L105.52,226.91 L105.93,226.93 L106.34,226.96 L106.75,226.98 L107.16,227.00 L107.57,227.03 L107.98,227.06 L108.39,227.08 L108.80,227.12 L109.21,227.15 L109.62,227.18 L110.03,227.22 L110.43,227.25 L110.84,227.29 L111.25,227.33 L111.66,227.37 L112.07,227.42 L112.48,227.46 L112.89,227.51 L113.30,227.56 L113.71,227.62 L114.12,227.67 L114.53,227.73 L114.94,227.79 L115.35,227.85 L115.76,227.91 L116.17,227.98 L116.57,228.05 L116.98,228.12 L117.39,228.19 L117.80,228.27 L118.21,228.35 L118.62,228.43 L119.03,228.51 L119.44,228.60 L119.85,228.69 L120.26,228.78 L120.67,228.88 L121.08,228.98 L121.49,229.08 L121.90,229.19 L122.31,229.30 L122.71,229.42 L123.12,229.53 L123.53,229.65 L123.94,229.78 L124.35,229.91 L124.76,230.04 L125.17,230.18 L125.58,230.32 L125.99,230.47 L126.40,230.62 L126.81,230.77 L127.22,230.93 L127.63,231.09 L128.04,231.26 L128.45,231.44 L128.85,231.61 L129.26,231.80 L129.67,231.99 L130.08,232.18 L130.49,232.38 L130.90,232.58 L131.31,232.79 L131.72,233.01 L132.13,233.23 L132.54,233.45 L132.95,233.69 L133.36,233.92 L133.77,234.17 L134.18,234.42 L134.59,234.67 L134.99,234.94 L135.40,235.21 L135.81,235.49 L136.22,235.77 L136.63,236.06 L137.04,236.36 L137.45,236.67 L137.86,236.99 L138.27,237.31 L138.68,237.64 L139.09,237.99 L139.50,238.34 L139.91,238.70 L140.32,239.07 L140.73,239.46 L141.14,239.85 L141.54,240.26 L141.95,240.68 L142.36,241.11 L142.77,241.55 L143.18,242.01 L143.59,242.49 L144.00,242.98 L144.41,243.48 L144.82,244.01 L145.23,244.55 L145.64,245.11 L146.05,245.70 L146.46,246.30 L146.87,246.93 L147.28,247.58 L147.68,248.27 L148.09,248.98 L148.50,249.72 L148.91,250.49 L149.32,251.30 L149.73,252.15 L150.14,253.04 L150.55,253.98 L150.96,254.97 L151.37,256.01 L151.78,257.11 L152.19,258.28 L152.60,259.52 L153.01,260.85 L153.42,262.26 L153.82,263.78 L154.23,265.42 L154.64,267.18 L155.05,269.11 L155.46,271.21 L155.87,273.53 L156.28,276.11 L156.69,279.02 L157.10,282.32 L157.51,286.16 L157.92,290.70 L158.33,296.25 L158.74,303.35 L159.15,313.06 L159.56,318.43 L159.96,318.43 L160.37,318.43 L160.78,318.43 L161.19,308.85 L161.60,299.00 L162.01,291.51 L162.42,285.45 L162.83,280.35 L163.24,275.95 L163.65,272.08 L164.06,268.62 L164.47,265.51 L164.88,262.68 L165.29,260.08 L165.70,257.67 L166.11,255.42 L166.51,253.32 L166.92,251.33 L167.33,249.45 L167.74,247.65 L168.15,245.92 L168.56,244.26 L168.97,242.64 L169.38,241.06 L169.79,239.51 L170.20,237.99 L170.61,236.50 L171.02,235.02 L171.43,233.57 L171.84,232.12 L172.25,230.69 L172.65,229.27 L173.06,227.86 L173.47,226.46 L173.88,225.07 L174.29,223.68 L174.70,222.30 L175.11,220.94 L175.52,219.58 L175.93,218.23 L176.34,216.90 L176.75,215.58 L177.16,214.27 L177.57,212.98 L177.98,211.71 L178.39,210.46 L178.79,209.22 L179.20,208.01 L179.61,206.82 L180.02,205.66 L180.43,204.52 L180.84,203.41 L181.25,202.33 L181.66,201.28 L182.07,200.26 L182.48,199.28 L182.89,198.33 L183.30,197.43 L183.71,196.56 L184.12,195.73 L184.53,194.94 L184.93,194.18 L185.34,193.45 L185.75,192.75 L186.16,192.07 L186.57,191.41 L186.98,190.78 L187.39,190.15 L187.80,189.54 L188.21,188.93 L188.62,188.33 L189.03,187.73 L189.44,187.13 L189.85,186.52 L190.26,185.90 L190.67,185.28 L191.08,184.64 L191.48,183.98 L191.89,183.30 L192.30,182.61 L192.71,181.90 L193.12,181.17 L193.53,180.43 L193.94,179.68 L194.35,178.92 L194.76,178.14 L195.17,177.36 L195.58,176.56 L195.99,175.76 L196.40,174.96 L196.81,174.14 L197.22,173.33 L197.62,172.51 L198.03,171.69 L198.44,170.88 L198.85,170.06 L199.26,169.24 L199.67,168.43 L200.08,167.63 L200.49,166.82 L200.90,166.03 L201.31,165.24 L201.72,164.47 L202.13,163.69 L202.54,162.93 L202.95,162.17 L203.36,161.42 L203.76,160.68 L204.17,159.94 L204.58,159.20 L204.99,158.47 L205.40,157.75 L205.81,157.03 L206.22,156.31 L206.63,155.60 L207.04,154.89 L207.45,154.18 L207.86,153.48 L208.27,152.78 L208.68,152.08 L209.09,151.39 L209.50,150.69 L209.90,150.00 L210.31,149.31 L210.72,148.62 L211.13,147.93 L211.54,147.24 L211.95,146.56 L212.36,145.87 L212.77,145.19 L213.18,144.50 L213.59,143.82 L214.00,143.14 L214.41,142.46 L214.82,141.78 L215.23,141.10 L215.64,140.43 L216.05,139.75 L216.45,139.08 L216.86,138.40 L217.27,137.73 L217.68,137.06 L218.09,136.39 L218.50,135.72 L218.91,135.05 L219.32,134.38 L219.73,133.72 L220.14,133.05 L220.55,132.38 L220.96,131.72 L221.37,131.06 L221.78,130.39 L222.19,129.73 L222.59,129.07 L223.00,128.41 L223.41,127.75 L223.82,127.09 L224.23,126.44 L224.64,125.79 L225.05,125.14 L225.46,124.49 L225.87,123.85 L226.28,123.21 L226.69,122.57 L227.10,121.94 L227.51,121.32 L227.92,120.70 L228.33,120.08 L228.73,119.47 L229.14,118.87 L229.55,118.27 L229.96,117.68 L230.37,117.10 L230.78,116.52 L231.19,115.95 L231.60,115.39 L232.01,114.84 L232.42,114.30 L232.83,113.76 L233.24,113.23 L233.65,112.72 L234.06,112.21 L234.47,111.71 L234.87,111.22 L235.28,110.74 L235.69,110.28 L236.10,109.82 L236.51,109.37 L236.92,108.94 L237.33,108.52 L237.74,108.11 L238.15,107.71 L238.56,107.32 L238.97,106.95 L239.38,106.59 L239.79,106.24 L240.20,105.91 L240.61,105.59 L241.02,105.29 L241.42,105.00 L241.83,104.72 L242.24,104.46 L242.65,104.22 L243.06,103.99 L243.47,103.78 L243.88,103.58 L244.29,103.40 L244.70,103.24 L245.11,103.09 L245.52,102.96 L245.93,102.85 L246.34,102.76 L246.75,102.68 L247.16,102.62 L247.56,102.59 L247.97,102.57 L248.38,102.57 L248.79,102.59 L249.20,102.63 L249.61,102.69 L250.02,102.76 L250.43,102.86 L250.84,102.98 L251.25,103.12 L251.66,103.28 L252.07,103.45 L252.48,103.65 L252.89,103.86 L253.30,104.09 L253.70,104.33 L254.11,104.59 L254.52,104.87 L254.93,105.17 L255.34,105.48 L255.75,105.81 L256.16,106.16 L256.57,106.52 L256.98,106.89 L257.39,107.28 L257.80,107.69 L258.21,108.11 L258.62,108.54 L259.03,108.99 L259.44,109.45 L259.84,109.92 L260.25,110.41 L260.66,110.91 L261.07,111.42 L261.48,111.95 L261.89,112.48 L262.30,113.03 L262.71,113.59 L263.12,114.16 L263.53,114.74 L263.94,115.33 L264.35,115.93 L264.76,116.54 L265.17,117.16 L265.58,117.79 L265.98,118.43 L266.39,119.08 L266.80,119.74 L267.21,120.40 L267.62,121.08 L268.03,121.76 L268.44,122.45 L268.85,123.14 L269.26,123.85 L269.67,124.56 L270.08,125.27 L270.49,126.00 L270.90,126.72 L271.31,127.46 L271.72,128.20 L272.13,128.94 L272.53,129.69 L272.94,130.45 L273.35,131.21 L273.76,131.97 L274.17,132.74 L274.58,133.51 L274.99,134.29 L275.40,135.07 L275.81,135.86 L276.22,136.64 L276.63,137.44 L277.04,138.24 L277.45,139.04 L277.86,139.84 L278.27,140.65 L278.67,141.46 L279.08,142.28 L279.49,143.10 L279.90,143.92 L280.31,144.75 L280.72,145.57 L281.13,146.41 L281.54,147.24 L281.95,148.08 L282.36,148.92 L282.77,149.76 L283.18,150.60 L283.59,151.45 L284.00,152.30 L284.41,153.15 L284.81,154.01 L285.22,154.86 L285.63,155.72 L286.04,156.58 L286.45,157.44 L286.86,158.31 L287.27,159.17 L287.68,160.04 L288.09,160.91 L288.50,161.78 L288.91,162.65 L289.32,163.52 L289.73,164.39 L290.14,165.27 L290.55,166.15 L290.95,167.02 L291.36,167.90 L291.77,168.78 L292.18,169.66 L292.59,170.54 L293.00,171.42 L293.41,172.31 L293.82,173.19 L294.23,174.08 L294.64,174.96 L295.05,175.85 L295.46,176.74 L295.87,177.62 L296.28,178.51 L296.69,179.41 L297.10,180.30 L297.50,181.19 L297.91,182.09 L298.32,182.99 L298.73,183.89 L299.14,184.79 L299.55,185.70 L299.96,186.61 L300.37,187.52 L300.78,188.43 L301.19,189.34 L301.60,190.26 L302.01,191.18 L302.42,192.11 L302.83,193.04 L303.24,193.97 L303.64,194.91 L304.05,195.85 L304.46,196.79 L304.87,197.74 L305.28,198.70 L305.69,199.65 L306.10,200.62 L306.51,201.59 L306.92,202.56 L307.33,203.55 L307.74,204.53 L308.15,205.53 L308.56,206.53 L308.97,207.54 L309.38,208.56 L309.78,209.58 L310.19,210.62 L310.60,211.66 L311.01,212.72 L311.42,213.78 L311.83,214.85 L312.24,215.94 L312.65,217.03 L313.06,218.14 L313.47,219.27 L313.88,220.40 L314.29,221.55 L314.70,222.72 L315.11,223.90 L315.52,225.10 L315.92,226.32 L316.33,227.56 L316.74,228.82 L317.15,230.10 L317.56,231.41 L317.97,232.74 L318.38,234.10 L318.79,235.48 L319.20,236.90 L319.61,238.35 L320.02,239.84 L320.43,241.36 L320.84,242.93 L321.25,244.54 L321.66,246.20 L322.07,247.91 L322.47,249.68 L322.88,251.52 L323.29,253.42 L323.70,255.41 L324.11,257.49 L324.52,259.67 L324.93,261.97 L325.34,264.40 L325.75,266.99 L326.16,269.76 L326.57,272.74 L326.98,275.99 L327.39,279.56 L327.80,283.53 L328.21,288.03 L328.61,293.22 L329.02,299.41 L329.43,307.09 L329.84,317.30 L330.25,318.43 L330.66,318.43 L331.07,318.43 L331.48,318.43 L331.89,317.81 L332.30,308.42 L332.71,301.45 L333.12,295.93 L333.53,291.37 L333.94,287.50 L334.35,284.14 L334.75,281.18 L335.16,278.55 L335.57,276.18 L335.98,274.02 L336.39,272.06 L336.80,270.25 L337.21,268.58 L337.62,267.03 L338.03,265.59 L338.44,264.25 L338.85,262.99 L339.26,261.81 L339.67,260.70 L340.08,259.66 L340.49,258.68 L340.89,257.75 L341.30,256.87 L341.71,256.05 L342.12,255.26 L342.53,254.52 L342.94,253.82 L343.35,253.15 L343.76,252.53 L344.17,251.93 L344.58,251.37 L344.99,250.84 L345.40,250.33 L345.81,249.85 L346.22,249.39 L346.63,248.96 L347.04,248.55 L347.44,248.15 L347.85,247.78 L348.26,247.42 L348.67,247.07 L349.08,246.74 L349.49,246.43 L349.90,246.12 L350.31,245.83 L350.72,245.54 L351.13,245.26 L351.54,245.00 L351.95,244.74 L352.36,244.48 L352.77,244.24 L353.18,244.00 L353.58,243.77 L353.99,243.55 L354.40,243.33 L354.81,243.12 L355.22,242.91 L355.63,242.71 L356.04,242.52 L356.45,242.33 L356.86,242.15 L357.27,241.97 L357.68,241.80 L358.09,241.63 L358.50,241.47 L358.91,241.31 L359.32,241.16 L359.72,241.02 L360.13,240.88 L360.54,240.74 L360.95,240.61 L361.36,240.48 L361.77,240.35 L362.18,240.23 L362.59,240.12 L363.00,240.01 L363.41,239.90 L363.82,239.79 L364.23,239.69 L364.64,239.60 L365.05,239.50 L365.46,239.41 L365.86,239.32 L366.27,239.24 L366.68,239.16 L367.09,239.08 L367.50,239.00 L367.91,238.93 L368.32,238.86 L368.73,238.79 L369.14,238.72 L369.55,238.66 L369.96,238.60 L370.37,238.54 L370.78,238.48 L371.19,238.43 L371.60,238.37 L372.01,238.32 L372.41,238.28 L372.82,238.23 L373.23,238.18 L373.64,238.14 L374.05,238.10 L374.46,238.06 L374.87,238.02 L375.28,237.99 L375.69,237.95 L376.10,237.92 L376.51,237.89 L376.92,237.86 L377.33,237.83 L377.74,237.80 L378.15,237.78 L378.55,237.76 L378.96,237.73 L379.37,237.71 L379.78,237.69 L380.19,237.67 L380.60,237.65 L381.01,237.64 L381.42,237.62 L381.83,237.61 L382.24,237.59 L382.65,237.58 L383.06,237.57 L383.47,237.56 L383.88,237.55 L384.29,237.54 L384.69,237.54 L385.10,237.53 L385.51,237.52 L385.92,237.52 L386.33,237.51 L386.74,237.51 L387.15,237.51 L387.56,237.51 L387.97,237.51 L388.38,237.51 L388.79,237.51 L389.20,237.51 L389.61,237.51 L390.02,237.52 L390.43,237.52 L390.83,237.52 L391.24,237.53 L391.65,237.53 L392.06,237.54 L392.47,237.55 L392.88,237.56 L393.29,237.56 L393.70,237.57 L394.11,237.58 L394.52,237.59 L394.93,237.60 L395.34,237.61 L395.75,237.62 L396.16,237.64 L396.57,237.65 L396.97,237.66 L397.38,237.67 L397.79,237.69 L398.20,237.70 L398.61,237.72 L399.02,237.73 L399.43,237.75 L399.84,237.76 L400.25,237.78 L400.66,237.80 L401.07,237.81 L401.48,237.83 L401.89,237.85 L402.30,237.87 L402.71,237.89 L403.12,237.91 L403.52,237.92 L403.93,237.94 L404.34,237.96 L404.75,237.99 L405.16,238.01 L405.57,238.03 L405.98,238.05 L406.39,238.07 L406.80,238.09 L407.21,238.11 L407.62,238.14 L408.03,238.16 L408.44,238.18 L408.85,238.21 L409.26,238.23 L409.66,238.26 L410.07,238.28 L410.48,238.30 L410.89,238.33 L411.30,238.35 L411.71,238.38 L412.12,238.41 L412.53,238.43 L412.94,238.46 L413.35,238.48 L413.76,238.51 L414.17,238.54 L414.58,238.57 L414.99,238.59 L415.40,238.62 L415.80,238.65 L416.21,238.68 L416.62,238.70 L417.03,238.73 L417.44,238.76 L417.85,238.79 L418.26,238.82 L418.67,238.85 L419.08,238.88 L419.49,238.91 L419.90,238.94 L420.31,238.97 L420.72,239.00 L421.13,239.03 L421.54,239.06 L421.94,239.09 L422.35,239.12 L422.76,239.16 L423.17,239.19 L423.58,239.22 L423.99,239.25 L424.40,239.28 L424.81,239.32 L425.22,239.35 L425.63,239.38 L426.04,239.42 L426.45,239.45 L426.86,239.48 L427.27,239.52 L427.68,239.55 L428.09,239.58 L428.49,239.62 L428.90,239.65 L429.31,239.69 L429.72,239.72 L430.13,239.76 L430.54,239.79 L430.95,239.83 L431.36,239.86 L431.77,239.90 L432.18,239.94 L432.59,239.97 L433.00,240.01 L433.41,240.05 L433.82,240.08 L434.23,240.12 L434.63,240.16 L435.04,240.19 L435.45,240.23 L435.86,240.27 L436.27,240.31 L436.68,240.35 L437.09,240.38 L437.50,240.42" stroke="#ffa500"/>
<path d="M69.50,194.69 L69.91,194.56 L70.32,194.43 L70.73,194.30 L71.14,194.18 L71.55,194.05 L71.96,193.92 L72.37,193.79 L72.77,193.66 L73.18,193.54 L73.59,193.41 L74.00,193.28 L74.41,193.15 L74.82,193.02 L75.23,192.89 L75.64,192.76 L76.05,192.63 L76.46,192.50 L76.87,192.37 L77.28,192.24 L77.69,192.11 L78.10,191.98 L78.51,191.85 L78.91,191.72 L79.32,191.59 L79.73,191.46 L80.14,191.33 L80.55,191.20 L80.96,191.07 L81.37,190.94 L81.78,190.81 L82.19,190.68 L82.60,190.54 L83.01,190.41 L83.42,190.28 L83.83,190.15 L84.24,190.01 L84.65,189.88 L85.06,189.75 L85.46,189.61 L85.87,189.48 L86.28,189.35 L86.69,189.21 L87.10,189.08 L87.51,188.94 L87.92,188.81 L88.33,188.68 L88.74,188.54 L89.15,188.40 L89.56,188.27 L89.97,188.13 L90.38,188.00 L90.79,187.86 L91.20,187.72 L91.60,187.59 L92.01,187.45 L92.42,187.31 L92.83,187.18 L93.24,187.04 L93.65,186.90 L94.06,186.76 L94.47,186.62 L94.88,186.48 L95.29,186.34 L95.70,186.20 L96.11,186.06 L96.52,185.92 L96.93,185.78 L97.34,185.64 L97.74,185.50 L98.15,185.36 L98.56,185.22 L98.97,185.08 L99.38,184.93 L99.79,184.79 L100.20,184.65 L100.61,184.51 L101.02,184.36 L101.43,184.22 L101.84,184.07 L102.25,183.93 L102.66,183.78 L103.07,183.64 L103.48,183.49 L103.88,183.35 L104.29,183.20 L104.70,183.05 L105.11,182.91 L105.52,182.76 L105.93,182.61 L106.34,182.46 L106.75,182.31 L107.16,182.17 L107.57,182.02 L107.98,181.87 L108.39,181.72 L108.80,181.57 L109.21,181.41 L109.62,181.26 L110.03,181.11 L110.43,180.96 L110.84,180.81 L111.25,180.65 L111.66,180.50 L112.07,180.35 L112.48,180.19 L112.89,180.04 L113.30,179.88 L113.71,179.73 L114.12,179.57 L114.53,179.41 L114.94,179.26 L115.35,179.10 L115.76,178.94 L116.17,178.78 L116.57,178.63 L116.98,178.47 L117.39,178.31 L117.80,178.15 L118.21,177.99 L118.62,177.83 L119.03,177.67 L119.44,177.50 L119.85,177.34 L120.26,177.18 L120.67,177.01 L121.08,176.85 L121.49,176.69 L121.90,176.52 L122.31,176.36 L122.71,176.19 L123.12,176.03 L123.53,175.86 L123.94,175.69 L124.35,175.52 L124.76,175.35 L125.17,175.19 L125.58,175.02 L125.99,174.85 L126.40,174.68 L126.81,174.51 L127.22,174.33 L127.63,174.16 L128.04,173.99 L128.45,173.82 L128.85,173.64 L129.26,173.47 L129.67,173.29 L130.08,173.12 L130.49,172.94 L130.90,172.77 L131.31,172.59 L131.72,172.41 L132.13,172.23 L132.54,172.06 L132.95,171.88 L133.36,171.70 L133.77,171.52 L134.18,171.34 L134.59,171.15 L134.99,170.97 L135.40,170.79 L135.81,170.61 L136.22,170.42 L136.63,170.24 L137.04,170.05 L137.45,169.87 L137.86,169.68 L138.27,169.49 L138.68,169.30 L139.09,169.12 L139.50,168.93 L139.91,168.74 L140.32,168.55 L140.73,168.36 L141.14,168.16 L141.54,167.97 L141.95,167.78 L142.36,167.59 L142.77,167.39 L143.18,167.20 L143.59,167.00 L144.00,166.81 L144.41,166.61 L144.82,166.41 L145.23,166.21 L145.64,166.02 L146.05,165.82 L146.46,165.62 L146.87,165.41 L147.28,165.21 L147.68,165.01 L148.09,164.81 L148.50,164.60 L148.91,164.40 L149.32,164.20 L149.73,163.99 L150.14,163.78 L150.55,163.58 L150.96,163.37 L151.37,163.16 L151.78,162.95 L152.19,162.74 L152.60,162.53 L153.01,162.32 L153.42,162.11 L153.82,161.89 L154.23,161.68 L154.64,161.46 L155.05,161.25 L155.46,161.03 L155.87,160.82 L156.28,160.60 L156.69,160.38 L157.10,160.16 L157.51,159.94 L157.92,159.72 L158.33,159.50 L158.74,159.28 L159.15,159.06 L159.56,158.83 L159.96,158.61 L160.37,158.38 L160.78,158.16 L161.19,157.93 L161.60,157.70 L162.01,157.47 L162.42,157.24 L162.83,157.01 L163.24,156.78 L163.65,156.55 L164.06,156.32 L164.47,156.09 L164.88,155.85 L165.29,155.62 L165.70,155.38 L166.11,155.14 L166.51,154.91 L166.92,154.67 L167.33,154.43 L167.74,154.19 L168.15,153.95 L168.56,153.71 L168.97,153.46 L169.38,153.22 L169.79,152.98 L170.20,152.73 L170.61,152.49 L171.02,152.24 L171.43,151.99 L171.84,151.74 L172.25,151.49 L172.65,151.24 L173.06,150.99 L173.47,150.74 L173.88,150.49 L174.29,150.23 L174.70,149.98 L175.11,149.72 L175.52,149.46 L175.93,149.21 L176.34,148.95 L176.75,148.69 L177.16,148.43 L177.57,148.17 L177.98,147.90 L178.39,147.64 L178.79,147.38 L179.20,147.11 L179.61,146.85 L180.02,146.58 L180.43,146.31 L180.84,146.04 L181.25,145.77 L181.66,145.50 L182.07,145.23 L182.48,144.96 L182.89,144.68 L183.30,144.41 L183.71,144.13 L184.12,143.86 L184.53,143.58 L184.93,143.30 L185.34,143.02 L185.75,142.74 L186.16,142.46 L186.57,142.18 L186.98,141.89 L187.39,141.61 L187.80,141.32 L188.21,141.04 L188.62,140.75 L189.03,140.46 L189.44,140.18 L189.85,139.89 L190.26,139.60 L190.67,139.31 L191.08,139.01 L191.48,138.72 L191.89,138.43 L192.30,138.13 L192.71,137.84 L193.12,137.54 L193.53,137.25 L193.94,136.95 L194.35,136.65 L194.76,136.36 L195.17,136.06 L195.58,135.76 L195.99,135.46 L196.40,135.16 L196.81,134.86 L197.22,134.55 L197.62,134.25 L198.03,133.95 L198.44,133.65 L198.85,133.34 L199.26,133.04 L199.67,132.73 L200.08,132.43 L200.49,132.12 L200.90,131.81 L201.31,131.51 L201.72,131.20 L202.13,130.89 L202.54,130.58 L202.95,130.27 L203.36,129.97 L203.76,129.66 L204.17,129.35 L204.58,129.04 L204.99,128.73 L205.40,128.41 L205.81,128.10 L206.22,127.79 L206.63,127.48 L207.04,127.17 L207.45,126.85 L207.86,126.54 L208.27,126.23 L208.68,125.92 L209.09,125.60 L209.50,125.29 L209.90,124.98 L210.31,124.66 L210.72,124.35 L211.13,124.03 L211.54,123.72 L211.95,123.40 L212.36,123.09 L212.77,122.77 L213.18,122.46 L213.59,122.15 L214.00,121.83 L214.41,121.52 L214.82,121.20 L215.23,120.88 L215.64,120.57 L216.05,120.25 L216.45,119.94 L216.86,119.62 L217.27,119.31 L217.68,118.99 L218.09,118.68 L218.50,118.36 L218.91,118.05 L219.32,117.74 L219.73,117.42 L220.14,117.11 L220.55,116.79 L220.96,116.48 L221.37,116.16 L221.78,115.85 L222.19,115.54 L222.59,115.22 L223.00,114.91 L223.41,114.60 L223.82,114.28 L224.23,113.97 L224.64,113.66 L225.05,113.35 L225.46,113.04 L225.87,112.73 L226.28,112.42 L226.69,112.11 L227.10,111.80 L227.51,111.50 L227.92,111.19 L228.33,110.89 L228.73,110.59 L229.14,110.29 L229.55,109.99 L229.96,109.70 L230.37,109.41 L230.78,109.12 L231.19,108.83 L231.60,108.55 L232.01,108.27 L232.42,107.99 L232.83,107.72 L233.24,107.45 L233.65,107.18 L234.06,106.92 L234.47,106.66 L234.87,106.41 L235.28,106.16 L235.69,105.91 L236.10,105.67 L236.51,105.44 L236.92,105.20 L237.33,104.98 L237.74,104.76 L238.15,104.54 L238.56,104.33 L238.97,104.13 L239.38,103.93 L239.79,103.74 L240.20,103.56 L240.61,103.38 L241.02,103.20 L241.42,103.04 L241.83,102.88 L242.24,102.73 L242.65,102.58 L243.06,102.44 L243.47,102.31 L243.88,102.19 L244.29,102.08 L244.70,101.97 L245.11,101.87 L245.52,101.78 L245.93,101.70 L246.34,101.63 L246.75,101.56 L247.16,101.51 L247.56,101.46 L247.97,101.42 L248.38,101.39 L248.79,101.38 L249.20,101.37 L249.61,101.37 L250.02,101.38 L250.43,101.40 L250.84,101.43 L251.25,101.47 L251.66,101.52 L252.07,101.57 L252.48,101.64 L252.89,101.72 L253.30,101.80 L253.70,101.89 L254.11,101.99 L254.52,102.10 L254.93,102.22 L255.34,102.35 L255.75,102.49 L256.16,102.63 L256.57,102.78 L256.98,102.94 L257.39,103.11 L257.80,103.28 L258.21,103.46 L258.62,103.65 L259.03,103.85 L259.44,104.05 L259.84,104.26 L260.25,104.48 L260.66,104.71 L261.07,104.94 L261.48,105.18 L261.89,105.42 L262.30,105.68 L262.71,105.93 L263.12,106.20 L263.53,106.47 L263.94,106.74 L264.35,107.03 L264.76,107.31 L265.17,107.61 L265.58,107.91 L265.98,108.21 L266.39,108.52 L266.80,108.84 L267.21,109.16 L267.62,109.49 L268.03,109.82 L268.44,110.15 L268.85,110.49 L269.26,110.84 L269.67,111.19 L270.08,111.54 L270.49,111.90 L270.90,112.26 L271.31,112.63 L271.72,113.00 L272.13,113.37 L272.53,113.75 L272.94,114.13 L273.35,114.52 L273.76,114.90 L274.17,115.30 L274.58,115.69 L274.99,116.09 L275.40,116.49 L275.81,116.89 L276.22,117.30 L276.63,117.71 L277.04,118.12 L277.45,118.53 L277.86,118.95 L278.27,119.36 L278.67,119.78 L279.08,120.20 L279.49,120.63 L279.90,121.05 L280.31,121.47 L280.72,121.90 L281.13,122.33 L281.54,122.76 L281.95,123.19 L282.36,123.62 L282.77,124.05 L283.18,124.48 L283.59,124.91 L284.00,125.34 L284.41,125.77 L284.81,126.20 L285.22,126.64 L285.63,127.07 L286.04,127.50 L286.45,127.93 L286.86,128.36 L287.27,128.79 L287.68,129.21 L288.09,129.64 L288.50,130.07 L288.91,130.49 L289.32,130.91 L289.73,131.33 L290.14,131.75 L290.55,132.17 L290.95,132.59 L291.36,133.00 L291.77,133.41 L292.18,133.82 L292.59,134.23 L293.00,134.64 L293.41,135.04 L293.82,135.44 L294.23,135.84 L294.64,136.24 L295.05,136.63 L295.46,137.02 L295.87,137.41 L296.28,137.80 L296.69,138.19 L297.10,138.57 L297.50,138.95 L297.91,139.33 L298.32,139.71 L298.73,140.09 L299.14,140.46 L299.55,140.83 L299.96,141.21 L300.37,141.57 L300.78,141.94 L301.19,142.31 L301.60,142.67 L302.01,143.03 L302.42,143.39 L302.83,143.75 L303.24,144.10 L303.64,144.46 L304.05,144.81 L304.46,145.16 L304.87,145.51 L305.28,145.85 L305.69,146.20 L306.10,146.54 L306.51,146.88 L306.92,147.22 L307.33,147.56 L307.74,147.90 L308.15,148.23 L308.56,148.57 L308.97,148.90 L309.38,149.23 L309.78,149.56 L310.19,149.89 L310.60,150.21 L311.01,150.54 L311.42,150.86 L311.83,151.18 L312.24,151.50 L312.65,151.82 L313.06,152.14 L313.47,152.45 L313.88,152.77 L314.29,153.08 L314.70,153.39 L315.11,153.70 L315.52,154.01 L315.92,154.32 L316.33,154.62 L316.74,154.93 L317.15,155.23 L317.56,155.54 L317.97,155.84 L318.38,156.14 L318.79,156.43 L319.20,156.73 L319.61,157.03 L320.02,157.32 L320.43,157.61 L320.84,157.91 L321.25,158.20 L321.66,158.49 L322.07,158.77 L322.47,159.06 L322.88,159.35 L323.29,159.63 L323.70,159.91 L324.11,160.20 L324.52,160.48 L324.93,160.76 L325.34,161.03 L325.75,161.31 L326.16,161.59 L326.57,161.86 L326.98,162.14 L327.39,162.41 L327.80,162.68 L328.21,162.95 L328.61,163.22 L329.02,163.49 L329.43,163.76 L329.84,164.02 L330.25,164.29 L330.66,164.55 L331.07,164.82 L331.48,165.08 L331.89,165.34 L332.30,165.60 L332.71,165.86 L333.12,166.12 L333.53,166.37 L333.94,166.63 L334.35,166.88 L334.75,167.14 L335.16,167.39 L335.57,167.64 L335.98,167.89 L336.39,168.14 L336.80,168.39 L337.21,168.64 L337.62,168.89 L338.03,169.13 L338.44,169.38 L338.85,169.62 L339.26,169.87 L339.67,170.11 L340.08,170.35 L340.49,170.59 L340.89,170.83 L341.30,171.07 L341.71,171.31 L342.12,171.55 L342.53,171.78 L342.94,172.02 L343.35,172.25 L343.76,172.49 L344.17,172.72 L344.58,172.95 L344.99,173.19 L345.40,173.42 L345.81,173.65 L346.22,173.88 L346.63,174.10 L347.04,174.33 L347.44,174.56 L347.85,174.79 L348.26,175.01 L348.67,175.24 L349.08,175.46 L349.49,175.69 L349.90,175.91 L350.31,176.13 L350.72,176.35 L351.13,176.57 L351.54,176.79 L351.95,177.01 L352.36,177.23 L352.77,177.45 L353.18,177.67 L353.58,177.88 L353.99,178.10 L354.40,178.32 L354.81,178.53 L355.22,178.75 L355.63,178.96 L356.04,179.17 L356.45,179.39 L356.86,179.60 L357.27,179.81 L357.68,180.02 L358.09,180.23 L358.50,180.44 L358.91,180.65 L359.32,180.86 L359.72,181.07 L360.13,181.28 L360.54,181.49 L360.95,181.70 L361.36,181.90 L361.77,182.11 L362.18,182.31 L362.59,182.52 L363.00,182.72 L363.41,182.93 L363.82,183.13 L364.23,183.34 L364.64,183.54 L365.05,183.74 L365.46,183.95 L365.86,184.15 L366.27,184.35 L366.68,184.55 L367.09,184.75 L367.50,184.95 L367.91,185.15 L368.32,185.35 L368.73,185.55 L369.14,185.75 L369.55,185.95 L369.96,186.14 L370.37,186.34 L370.78,186.54 L371.19,186.73 L371.60,186.93 L372.01,187.12 L372.41,187.32 L372.82,187.51 L373.23,187.71 L373.64,187.90 L374.05,188.09 L374.46,188.29 L374.87,188.48 L375.28,188.67 L375.69,188.86 L376.10,189.05 L376.51,189.24 L376.92,189.43 L377.33,189.62 L377.74,189.81 L378.15,190.00 L378.55,190.19 L378.96,190.38 L379.37,190.57 L379.78,190.75 L380.19,190.94 L380.60,191.12 L381.01,191.31 L381.42,191.50 L381.83,191.68 L382.24,191.86 L382.65,192.05 L383.06,192.23 L383.47,192.41 L383.88,192.60 L384.29,192.78 L384.69,192.96 L385.10,193.14 L385.51,193.32 L385.92,193.50 L386.33,193.68 L386.74,193.86 L387.15,194.04 L387.56,194.22 L387.97,194.40 L388.38,194.57 L388.79,194.75 L389.20,194.93 L389.61,195.10 L390.02,195.28 L390.43,195.45 L390.83,195.63 L391.24,195.80 L391.65,195.98 L392.06,196.15 L392.47,196.32 L392.88,196.50 L393.29,196.67 L393.70,196.84 L394.11,197.01 L394.52,197.18 L394.93,197.35 L395.34,197.52 L395.75,197.69 L396.16,197.86 L396.57,198.03 L396.97,198.20 L397.38,198.36 L397.79,198.53 L398.20,198.70 L398.61,198.86 L399.02,199.03 L399.43,199.19 L399.84,199.36 L400.25,199.52 L400.66,199.69 L401.07,199.85 L401.48,200.01 L401.89,200.17 L402.30,200.34 L402.71,200.50 L403.12,200.66 L403.52,200.82 L403.93,200.98 L404.34,201.14 L404.75,201.30 L405.16,201.46 L405.57,201.61 L405.98,201.77 L406.39,201.93 L406.80,202.09 L407.21,202.24 L407.62,202.40 L408.03,202.55 L408.44,202.71 L408.85,202.86 L409.26,203.02 L409.66,203.17 L410.07,203.32 L410.48,203.47 L410.89,203.63 L411.30,203.78 L411.71,203.93 L412.12,204.08 L412.53,204.23 L412.94,204.38 L413.35,204.53 L413.76,204.68 L414.17,204.83 L414.58,204.97 L414.99,205.12 L415.40,205.27 L415.80,205.41 L416.21,205.56 L416.62,205.70 L417.03,205.85 L417.44,205.99 L417.85,206.14 L418.26,206.28 L418.67,206.42 L419.08,206.57 L419.49,206.71 L419.90,206.85 L420.31,206.99 L420.72,207.13 L421.13,207.27 L421.54,207.41 L421.94,207.55 L422.35,207.69 L422.76,207.83 L423.17,207.96 L423.58,208.10 L423.99,208.24 L424.40,208.37 L424.81,208.51 L425.22,208.65 L425.63,208.78 L426.04,208.91 L426.45,209.05 L426.86,209.18 L427.27,209.31 L427.68,209.45 L428.09,209.58 L428.49,209.71 L428.90,209.84 L429.31,209.97 L429.72,210.10 L430.13,210.23 L430.54,210.36 L430.95,210.49 L431.36,210.61 L431.77,210.74 L432.18,210.87 L432.59,211.00 L433.00,211.12 L433.41,211.25 L433.82,211.37 L434.23,211.50 L434.63,211.62 L435.04,211.74 L435.45,211.87 L435.86,211.99 L436.27,212.11 L436.68,212.23 L437.09,212.35 L437.50,212.47" stroke="#ffa500" stroke-dasharray="4.8 4.96" stroke-dashoffset="0.8"/>
<path d="M69.50,256.11 L69.91,256.07 L70.32,256.03 L70.73,255.98 L71.14,255.94 L71.55,255.90 L71.96,255.86 L72.37,255.81 L72.77,255.77 L73.18,255.73 L73.59,255.69 L74.00,255.65 L74.41,255.61 L74.82,255.57 L75.23,255.53 L75.64,255.49 L76.05,255.45 L76.46,255.41 L76.87,255.37 L77.28,255.33 L77.69,255.29 L78.10,255.25 L78.51,255.22 L78.91,255.18 L79.32,255.14 L79.73,255.10 L80.14,255.06 L80.55,255.03 L80.96,254.99 L81.37,254.95 L81.78,254.91 L82.19,254.88 L82.60,254.84 L83.01,254.80 L83.42,254.77 L83.83,254.73 L84.24,254.70 L84.65,254.66 L85.06,254.63 L85.46,254.59 L85.87,254.56 L86.28,254.52 L86.69,254.49 L87.10,254.45 L87.51,254.42 L87.92,254.38 L88.33,254.35 L88.74,254.32 L89.15,254.28 L89.56,254.25 L89.97,254.22 L90.38,254.18 L90.79,254.15 L91.20,254.12 L91.60,254.09 L92.01,254.05 L92.42,254.02 L92.83,253.99 L93.24,253.96 L93.65,253.93 L94.06,253.90 L94.47,253.87 L94.88,253.83 L95.29,253.80 L95.70,253.77 L96.11,253.74 L96.52,253.71 L96.93,253.68 L97.34,253.66 L97.74,253.63 L98.15,253.60 L98.56,253.57 L98.97,253.54 L99.38,253.51 L99.79,253.48 L100.20,253.46 L100.61,253.43 L101.02,253.40 L101.43,253.37 L101.84,253.35 L102.25,253.32 L102.66,253.29 L103.07,253.27 L103.48,253.24 L103.88,253.22 L104.29,253.19 L104.70,253.17 L105.11,253.14 L105.52,253.12 L105.93,253.09 L106.34,253.07 L106.75,253.04 L107.16,253.02 L107.57,253.00 L107.98,252.97 L108.39,252.95 L108.80,252.93 L109.21,252.91 L109.62,252.89 L110.03,252.86 L110.43,252.84 L110.84,252.82 L111.25,252.80 L111.66,252.78 L112.07,252.76 L112.48,252.74 L112.89,252.73 L113.30,252.71 L113.71,252.69 L114.12,252.67 L114.53,252.65 L114.94,252.64 L115.35,252.62 L115.76,252.61 L116.17,252.59 L116.57,252.58 L116.98,252.56 L117.39,252.55 L117.80,252.53 L118.21,252.52 L118.62,252.51 L119.03,252.49 L119.44,252.48 L119.85,252.47 L120.26,252.46 L120.67,252.45 L121.08,252.44 L121.49,252.43 L121.90,252.42 L122.31,252.42 L122.71,252.41 L123.12,252.40 L123.53,252.40 L123.94,252.39 L124.35,252.39 L124.76,252.38 L125.17,252.38 L125.58,252.38 L125.99,252.38 L126.40,252.38 L126.81,252.38 L127.22,252.38 L127.63,252.38 L128.04,252.38 L128.45,252.38 L128.85,252.39 L129.26,252.39 L129.67,252.40 L130.08,252.41 L130.49,252.41 L130.90,252.42 L131.31,252.43 L131.72,252.44 L132.13,252.45 L132.54,252.47 L132.95,252.48 L133.36,252.50 L133.77,252.51 L134.18,252.53 L134.59,252.55 L134.99,252.57 L135.40,252.59 L135.81,252.61 L136.22,252.64 L136.63,252.66 L137.04,252.69 L137.45,252.72 L137.86,252.75 L138.27,252.78 L138.68,252.81 L139.09,252.84 L139.50,252.88 L139.91,252.92 L140.32,252.96 L140.73,253.00 L141.14,253.04 L141.54,253.08 L141.95,253.13 L142.36,253.18 L142.77,253.23 L143.18,253.28 L143.59,253.34 L144.00,253.40 L144.41,253.46 L144.82,253.52 L145.23,253.58 L145.64,253.65 L146.05,253.72 L146.46,253.79 L146.87,253.86 L147.28,253.94 L147.68,254.02 L148.09,254.10 L148.50,254.19 L148.91,254.28 L149.32,254.37 L149.73,254.47 L150.14,254.57 L150.55,254.67 L150.96,254.78 L151.37,254.89 L151.78,255.00 L152.19,255.12 L152.60,255.24 L153.01,255.36 L153.42,255.50 L153.82,255.63 L154.23,255.77 L154.64,255.91 L155.05,256.06 L155.46,256.22 L155.87,256.38 L156.28,256.54 L156.69,256.71 L157.10,256.89 L157.51,257.07 L157.92,257.26 L158.33,257.45 L158.74,257.65 L159.15,257.86 L159.56,258.08 L159.96,258.30 L160.37,258.53 L160.78,258.77 L161.19,259.01 L161.60,259.27 L162.01,259.53 L162.42,259.81 L162.83,260.09 L163.24,260.39 L163.65,260.69 L164.06,261.01 L164.47,261.34 L164.88,261.68 L165.29,262.03 L165.70,262.40 L166.11,262.78 L166.51,263.18 L166.92,263.59 L167.33,264.02 L167.74,264.47 L168.15,264.94 L168.56,265.42 L168.97,265.93 L169.38,266.46 L169.79,267.02 L170.20,267.60 L170.61,268.21 L171.02,268.85 L171.43,269.52 L171.84,270.22 L172.25,270.96 L172.65,271.74 L173.06,272.56 L173.47,273.43 L173.88,274.35 L174.29,275.32 L174.70,276.35 L175.11,277.46 L175.52,278.63 L175.93,279.89 L176.34,281.24 L176.75,282.70 L177.16,284.27 L177.57,285.98 L177.98,287.85 L178.39,289.90 L178.79,292.17 L179.20,294.70 L179.61,297.55 L180.02,300.80 L180.43,304.56 L180.84,309.01 L181.25,314.43 L181.66,318.43 L182.07,318.43 L182.48,318.43 L182.89,318.43 L183.30,318.43 L183.71,318.43 L184.12,318.43 L184.53,318.43 L184.93,311.48 L185.34,305.19 L185.75,299.90 L186.16,295.31 L186.57,291.25 L186.98,287.59 L187.39,284.27 L187.80,281.20 L188.21,278.36 L188.62,275.71 L189.03,273.21 L189.44,270.86 L189.85,268.62 L190.26,266.49 L190.67,264.45 L191.08,262.50 L191.48,260.63 L191.89,258.82 L192.30,257.07 L192.71,255.38 L193.12,253.75 L193.53,252.16 L193.94,250.61 L194.35,249.10 L194.76,247.64 L195.17,246.20 L195.58,244.80 L195.99,243.43 L196.40,242.09 L196.81,240.77 L197.22,239.48 L197.62,238.21 L198.03,236.97 L198.44,235.74 L198.85,234.54 L199.26,233.35 L199.67,232.18 L200.08,231.03 L200.49,229.90 L200.90,228.78 L201.31,227.67 L201.72,226.57 L202.13,225.49 L202.54,224.43 L202.95,223.37 L203.36,222.32 L203.76,221.29 L204.17,220.26 L204.58,219.25 L204.99,218.24 L205.40,217.24 L205.81,216.25 L206.22,215.27 L206.63,214.30 L207.04,213.33 L207.45,212.38 L207.86,211.42 L208.27,210.48 L208.68,209.54 L209.09,208.60 L209.50,207.68 L209.90,206.75 L210.31,205.84 L210.72,204.92 L211.13,204.02 L211.54,203.11 L211.95,202.21 L212.36,201.32 L212.77,200.43 L213.18,199.54 L213.59,198.66 L214.00,197.78 L214.41,196.90 L214.82,196.03 L215.23,195.17 L215.64,194.30 L216.05,193.44 L216.45,192.59 L216.86,191.74 L217.27,190.90 L217.68,190.06 L218.09,189.22 L218.50,188.39 L218.91,187.57 L219.32,186.75 L219.73,185.94 L220.14,185.13 L220.55,184.33 L220.96,183.53 L221.37,182.74 L221.78,181.96 L222.19,181.18 L222.59,180.41 L223.00,179.65 L223.41,178.89 L223.82,178.14 L224.23,177.40 L224.64,176.66 L225.05,175.94 L225.46,175.22 L225.87,174.51 L226.28,173.80 L226.69,173.11 L227.10,172.42 L227.51,171.74 L227.92,171.07 L228.33,170.41 L228.73,169.76 L229.14,169.12 L229.55,168.49 L229.96,167.87 L230.37,167.26 L230.78,166.65 L231.19,166.06 L231.60,165.48 L232.01,164.91 L232.42,164.35 L232.83,163.81 L233.24,163.27 L233.65,162.75 L234.06,162.23 L234.47,161.73 L234.87,161.24 L235.28,160.77 L235.69,160.30 L236.10,159.85 L236.51,159.41 L236.92,158.99 L237.33,158.58 L237.74,158.18 L238.15,157.79 L238.56,157.42 L238.97,157.07 L239.38,156.73 L239.79,156.40 L240.20,156.09 L240.61,155.79 L241.02,155.51 L241.42,155.24 L241.83,154.99 L242.24,154.76 L242.65,154.54 L243.06,154.34 L243.47,154.15 L243.88,153.98 L244.29,153.83 L244.70,153.70 L245.11,153.58 L245.52,153.48 L245.93,153.40 L246.34,153.34 L246.75,153.29 L247.16,153.27 L247.56,153.26 L247.97,153.27 L248.38,153.30 L248.79,153.35 L249.20,153.42 L249.61,153.51 L250.02,153.62 L250.43,153.75 L250.84,153.90 L251.25,154.06 L251.66,154.25 L252.07,154.45 L252.48,154.67 L252.89,154.91 L253.30,155.16 L253.70,155.43 L254.11,155.72 L254.52,156.03 L254.93,156.35 L255.34,156.69 L255.75,157.05 L256.16,157.42 L256.57,157.81 L256.98,158.21 L257.39,158.63 L257.80,159.07 L258.21,159.52 L258.62,159.98 L259.03,160.46 L259.44,160.96 L259.84,161.46 L260.25,161.99 L260.66,162.52 L261.07,163.07 L261.48,163.64 L261.89,164.21 L262.30,164.80 L262.71,165.41 L263.12,166.02 L263.53,166.65 L263.94,167.29 L264.35,167.94 L264.76,168.61 L265.17,169.29 L265.58,169.97 L265.98,170.67 L266.39,171.38 L266.80,172.11 L267.21,172.84 L267.62,173.58 L268.03,174.34 L268.44,175.10 L268.85,175.88 L269.26,176.66 L269.67,177.46 L270.08,178.26 L270.49,179.07 L270.90,179.90 L271.31,180.73 L271.72,181.57 L272.13,182.42 L272.53,183.28 L272.94,184.15 L273.35,185.03 L273.76,185.91 L274.17,186.81 L274.58,187.71 L274.99,188.62 L275.40,189.53 L275.81,190.46 L276.22,191.39 L276.63,192.33 L277.04,193.28 L277.45,194.23 L277.86,195.19 L278.27,196.16 L278.67,197.13 L279.08,198.12 L279.49,199.10 L279.90,200.10 L280.31,201.10 L280.72,202.11 L281.13,203.12 L281.54,204.15 L281.95,205.17 L282.36,206.21 L282.77,207.25 L283.18,208.29 L283.59,209.34 L284.00,210.40 L284.41,211.47 L284.81,212.54 L285.22,213.61 L285.63,214.70 L286.04,215.79 L286.45,216.88 L286.86,217.99 L287.27,219.10 L287.68,220.21 L288.09,221.34 L288.50,222.47 L288.91,223.60 L289.32,224.75 L289.73,225.90 L290.14,227.07 L290.55,228.24 L290.95,229.42 L291.36,230.62 L291.77,231.82 L292.18,233.04 L292.59,234.27 L293.00,235.51 L293.41,236.77 L293.82,238.04 L294.23,239.33 L294.64,240.64 L295.05,241.97 L295.46,243.31 L295.87,244.68 L296.28,246.07 L296.69,247.49 L297.10,248.93 L297.50,250.40 L297.91,251.90 L298.32,253.43 L298.73,255.00 L299.14,256.61 L299.55,258.26 L299.96,259.95 L300.37,261.70 L300.78,263.49 L301.19,265.35 L301.60,267.28 L302.01,269.27 L302.42,271.35 L302.83,273.52 L303.24,275.80 L303.64,278.19 L304.05,280.71 L304.46,283.39 L304.87,286.26 L305.28,289.33 L305.69,292.67 L306.10,296.32 L306.51,300.36 L306.92,304.91 L307.33,310.14 L307.74,316.31 L308.15,318.43 L308.56,318.43 L308.97,318.43 L309.38,318.43 L309.78,318.43 L310.19,318.43 L310.60,318.43 L311.01,318.43 L311.42,318.43 L311.83,315.90 L312.24,311.37 L312.65,307.56 L313.06,304.29 L313.47,301.43 L313.88,298.90 L314.29,296.64 L314.70,294.60 L315.11,292.74 L315.52,291.05 L315.92,289.50 L316.33,288.07 L316.74,286.75 L317.15,285.52 L317.56,284.37 L317.97,283.30 L318.38,282.30 L318.79,281.36 L319.20,280.48 L319.61,279.65 L320.02,278.87 L320.43,278.13 L320.84,277.43 L321.25,276.77 L321.66,276.14 L322.07,275.55 L322.47,274.98 L322.88,274.45 L323.29,273.94 L323.70,273.46 L324.11,272.99 L324.52,272.55 L324.93,272.14 L325.34,271.74 L325.75,271.36 L326.16,270.99 L326.57,270.64 L326.98,270.31 L327.39,270.00 L327.80,269.70 L328.21,269.41 L328.61,269.13 L329.02,268.87 L329.43,268.61 L329.84,268.37 L330.25,268.14 L330.66,267.92 L331.07,267.71 L331.48,267.51 L331.89,267.32 L332.30,267.14 L332.71,266.96 L333.12,266.79 L333.53,266.63 L333.94,266.48 L334.35,266.34 L334.75,266.20 L335.16,266.07 L335.57,265.94 L335.98,265.82 L336.39,265.71 L336.80,265.60 L337.21,265.49 L337.62,265.40 L338.03,265.30 L338.44,265.21 L338.85,265.13 L339.26,265.05 L339.67,264.98 L340.08,264.91 L340.49,264.84 L340.89,264.78 L341.30,264.72 L341.71,264.66 L342.12,264.61 L342.53,264.56 L342.94,264.52 L343.35,264.48 L343.76,264.44 L344.17,264.40 L344.58,264.37 L344.99,264.34 L345.40,264.32 L345.81,264.29 L346.22,264.27 L346.63,264.25 L347.04,264.23 L347.44,264.22 L347.85,264.21 L348.26,264.20 L348.67,264.19 L349.08,264.18 L349.49,264.18 L349.90,264.18 L350.31,264.18 L350.72,264.18 L351.13,264.19 L351.54,264.19 L351.95,264.20 L352.36,264.21 L352.77,264.22 L353.18,264.23 L353.58,264.24 L353.99,264.26 L354.40,264.27 L354.81,264.29 L355.22,264.31 L355.63,264.33 L356.04,264.35 L356.45,264.38 L356.86,264.40 L357.27,264.43 L357.68,264.45 L358.09,264.48 L358.50,264.51 L358.91,264.54 L359.32,264.57 L359.72,264.60 L360.13,264.63 L360.54,264.66 L360.95,264.70 L361.36,264.73 L361.77,264.77 L362.18,264.80 L362.59,264.84 L363.00,264.88 L363.41,264.92 L363.82,264.96 L364.23,265.00 L364.64,265.04 L365.05,265.08 L365.46,265.12 L365.86,265.16 L366.27,265.21 L366.68,265.25 L367.09,265.29 L367.50,265.34 L367.91,265.38 L368.32,265.43 L368.73,265.47 L369.14,265.52 L369.55,265.57 L369.96,265.62 L370.37,265.66 L370.78,265.71 L371.19,265.76 L371.60,265.81 L372.01,265.86 L372.41,265.91 L372.82,265.96 L373.23,266.01 L373.64,266.06 L374.05,266.11 L374.46,266.16 L374.87,266.21 L375.28,266.27 L375.69,266.32 L376.10,266.37 L376.51,266.42 L376.92,266.48 L377.33,266.53 L377.74,266.58 L378.15,266.63 L378.55,266.69 L378.96,266.74 L379.37,266.80 L379.78,266.85 L380.19,266.90 L380.60,266.96 L381.01,267.01 L381.42,267.07 L381.83,267.12 L382.24,267.18 L382.65,267.23 L383.06,267.29 L383.47,267.34 L383.88,267.40 L384.29,267.45 L384.69,267.51 L385.10,267.57 L385.51,267.62 L385.92,267.68 L386.33,267.73 L386.74,267.79 L387.15,267.84 L387.56,267.90 L387.97,267.96 L388.38,268.01 L388.79,268.07 L389.20,268.12 L389.61,268.18 L390.02,268.24 L390.43,268.29 L390.83,268.35 L391.24,268.41 L391.65,268.46 L392.06,268.52 L392.47,268.57 L392.88,268.63 L393.29,268.69 L393.70,268.74 L394.11,268.80 L394.52,268.86 L394.93,268.91 L395.34,268.97 L395.75,269.02 L396.16,269.08 L396.57,269.14 L396.97,269.19 L397.38,269.25 L397.79,269.30 L398.20,269.36 L398.61,269.42 L399.02,269.47 L399.43,269.53 L399.84,269.58 L400.25,269.64 L400.66,269.70 L401.07,269.75 L401.48,269.81 L401.89,269.86 L402.30,269.92 L402.71,269.97 L403.12,270.03 L403.52,270.09 L403.93,270.14 L404.34,270.20 L404.75,270.25 L405.16,270.31 L405.57,270.36 L405.98,270.42 L406.39,270.47 L406.80,270.53 L407.21,270.58 L407.62,270.64 L408.03,270.69 L408.44,270.75 L408.85,270.80 L409.26,270.86 L409.66,270.91 L410.07,270.97 L410.48,271.02 L410.89,271.08 L411.30,271.13 L411.71,271.18 L412.12,271.24 L412.53,271.29 L412.94,271.35 L413.35,271.40 L413.76,271.46 L414.17,271.51 L414.58,271.56 L414.99,271.62 L415.40,271.67 L415.80,271.73 L416.21,271.78 L416.62,271.83 L417.03,271.89 L417.44,271.94 L417.85,272.00 L418.26,272.05 L418.67,272.10 L419.08,272.16 L419.49,272.21 L419.90,272.26 L420.31,272.32 L420.72,272.37 L421.13,272.42 L421.54,272.48 L421.94,272.53 L422.35,272.58 L422.76,272.64 L423.17,272.69 L423.58,272.74 L423.99,272.80 L424.40,272.85 L424.81,272.90 L425.22,272.96 L425.63,273.01 L426.04,273.06 L426.45,273.12 L426.86,273.17 L427.27,273.22 L427.68,273.28 L428.09,273.33 L428.49,273.38 L428.90,273.44 L429.31,273.49 L429.72,273.54 L430.13,273.60 L430.54,273.65 L430.95,273.70 L431.36,273.76 L431.77,273.81 L432.18,273.86 L432.59,273.91 L433.00,273.97 L433.41,274.02 L433.82,274.07 L434.23,274.13 L434.63,274.18 L435.04,274.23 L435.45,274.29 L435.86,274.34 L436.27,274.39 L436.68,274.45 L437.09,274.50 L437.50,274.55" stroke="#0000ff"/>
<path d="M69.50,241.01 L69.91,240.90 L70.32,240.79 L70.73,240.69 L71.14,240.58 L71.55,240.47 L71.96,240.36 L72.37,240.25 L72.77,240.14 L73.18,240.03 L73.59,239.92 L74.00,239.81 L74.41,239.70 L74.82,239.59 L75.23,239.48 L75.64,239.37 L76.05,239.26 L76.46,239.15 L76.87,239.04 L77.28,238.93 L77.69,238.81 L78.10,238.70 L78.51,238.59 L78.91,238.48 L79.32,238.36 L79.73,238.25 L80.14,238.14 L80.55,238.02 L80.96,237.91 L81.37,237.79 L81.78,237.68 L82.19,237.56 L82.60,237.45 L83.01,237.33 L83.42,237.22 L83.83,237.10 L84.24,236.98 L84.65,236.87 L85.06,236.75 L85.46,236.63 L85.87,236.51 L86.28,236.40 L86.69,236.28 L87.10,236.16 L87.51,236.04 L87.92,235.92 L88.33,235.80 L88.74,235.68 L89.15,235.56 L89.56,235.44 L89.97,235.32 L90.38,235.20 L90.79,235.07 L91.20,234.95 L91.60,234.83 L92.01,234.71 L92.42,234.58 L92.83,234.46 L93.24,234.33 L93.65,234.21 L94.06,234.09 L94.47,233.96 L94.88,233.83 L95.29,233.71 L95.70,233.58 L96.11,233.46 L96.52,233.33 L96.93,233.20 L97.34,233.07 L97.74,232.94 L98.15,232.82 L98.56,232.69 L98.97,232.56 L99.38,232.43 L99.79,232.30 L100.20,232.17 L100.61,232.04 L101.02,231.90 L101.43,231.77 L101.84,231.64 L102.25,231.51 L102.66,231.37 L103.07,231.24 L103.48,231.10 L103.88,230.97 L104.29,230.84 L104.70,230.70 L105.11,230.56 L105.52,230.43 L105.93,230.29 L106.34,230.15 L106.75,230.02 L107.16,229.88 L107.57,229.74 L107.98,229.60 L108.39,229.46 L108.80,229.32 L109.21,229.18 L109.62,229.04 L110.03,228.90 L110.43,228.75 L110.84,228.61 L111.25,228.47 L111.66,228.33 L112.07,228.18 L112.48,228.04 L112.89,227.89 L113.30,227.75 L113.71,227.60 L114.12,227.45 L114.53,227.31 L114.94,227.16 L115.35,227.01 L115.76,226.86 L116.17,226.71 L116.57,226.57 L116.98,226.42 L117.39,226.26 L117.80,226.11 L118.21,225.96 L118.62,225.81 L119.03,225.66 L119.44,225.50 L119.85,225.35 L120.26,225.20 L120.67,225.04 L121.08,224.88 L121.49,224.73 L121.90,224.57 L122.31,224.41 L122.71,224.26 L123.12,224.10 L123.53,223.94 L123.94,223.78 L124.35,223.62 L124.76,223.46 L125.17,223.30 L125.58,223.14 L125.99,222.97 L126.40,222.81 L126.81,222.65 L127.22,222.48 L127.63,222.32 L128.04,222.15 L128.45,221.99 L128.85,221.82 L129.26,221.65 L129.67,221.49 L130.08,221.32 L130.49,221.15 L130.90,220.98 L131.31,220.81 L131.72,220.64 L132.13,220.47 L132.54,220.29 L132.95,220.12 L133.36,219.95 L133.77,219.77 L134.18,219.60 L134.59,219.42 L134.99,219.25 L135.40,219.07 L135.81,218.90 L136.22,218.72 L136.63,218.54 L137.04,218.36 L137.45,218.18 L137.86,218.00 L138.27,217.82 L138.68,217.64 L139.09,217.45 L139.50,217.27 L139.91,217.09 L140.32,216.90 L140.73,216.72 L141.14,216.53 L141.54,216.34 L141.95,216.16 L142.36,215.97 L142.77,215.78 L143.18,215.59 L143.59,215.40 L144.00,215.21 L144.41,215.02 L144.82,214.82 L145.23,214.63 L145.64,214.44 L146.05,214.24 L146.46,214.05 L146.87,213.85 L147.28,213.66 L147.68,213.46 L148.09,213.26 L148.50,213.06 L148.91,212.86 L149.32,212.66 L149.73,212.46 L150.14,212.26 L150.55,212.06 L150.96,211.85 L151.37,211.65 L151.78,211.44 L152.19,211.24 L152.60,211.03 L153.01,210.83 L153.42,210.62 L153.82,210.41 L154.23,210.20 L154.64,209.99 L155.05,209.78 L155.46,209.57 L155.87,209.35 L156.28,209.14 L156.69,208.93 L157.10,208.71 L157.51,208.50 L157.92,208.28 L158.33,208.06 L158.74,207.84 L159.15,207.62 L159.56,207.40 L159.96,207.18 L160.37,206.96 L160.78,206.74 L161.19,206.52 L161.60,206.29 L162.01,206.07 L162.42,205.84 L162.83,205.62 L163.24,205.39 L163.65,205.16 L164.06,204.93 L164.47,204.70 L164.88,204.47 L165.29,204.24 L165.70,204.01 L166.11,203.78 L166.51,203.54 L166.92,203.31 L167.33,203.07 L167.74,202.83 L168.15,202.60 L168.56,202.36 L168.97,202.12 L169.38,201.88 L169.79,201.64 L170.20,201.40 L170.61,201.15 L171.02,200.91 L171.43,200.67 L171.84,200.42 L172.25,200.17 L172.65,199.93 L173.06,199.68 L173.47,199.43 L173.88,199.18 L174.29,198.93 L174.70,198.68 L175.11,198.43 L175.52,198.17 L175.93,197.92 L176.34,197.66 L176.75,197.41 L177.16,197.15 L177.57,196.89 L177.98,196.63 L178.39,196.37 L178.79,196.11 L179.20,195.85 L179.61,195.58 L180.02,195.32 L180.43,195.06 L180.84,194.79 L181.25,194.52 L181.66,194.26 L182.07,193.99 L182.48,193.72 L182.89,193.45 L183.30,193.18 L183.71,192.90 L184.12,192.63 L184.53,192.36 L184.93,192.08 L185.34,191.80 L185.75,191.53 L186.16,191.25 L186.57,190.97 L186.98,190.69 L187.39,190.41 L187.80,190.12 L188.21,189.84 L188.62,189.56 L189.03,189.27 L189.44,188.99 L189.85,188.70 L190.26,188.41 L190.67,188.12 L191.08,187.83 L191.48,187.54 L191.89,187.25 L192.30,186.96 L192.71,186.67 L193.12,186.37 L193.53,186.08 L193.94,185.79 L194.35,185.49 L194.76,185.19 L195.17,184.90 L195.58,184.60 L195.99,184.30 L196.40,184.00 L196.81,183.70 L197.22,183.40 L197.62,183.10 L198.03,182.80 L198.44,182.49 L198.85,182.19 L199.26,181.89 L199.67,181.58 L200.08,181.28 L200.49,180.97 L200.90,180.67 L201.31,180.36 L201.72,180.05 L202.13,179.75 L202.54,179.44 L202.95,179.13 L203.36,178.82 L203.76,178.51 L204.17,178.20 L204.58,177.89 L204.99,177.58 L205.40,177.27 L205.81,176.96 L206.22,176.64 L206.63,176.33 L207.04,176.02 L207.45,175.71 L207.86,175.39 L208.27,175.08 L208.68,174.77 L209.09,174.45 L209.50,174.14 L209.90,173.82 L210.31,173.51 L210.72,173.19 L211.13,172.88 L211.54,172.56 L211.95,172.25 L212.36,171.93 L212.77,171.61 L213.18,171.30 L213.59,170.98 L214.00,170.66 L214.41,170.35 L214.82,170.03 L215.23,169.71 L215.64,169.40 L216.05,169.08 L216.45,168.76 L216.86,168.44 L217.27,168.13 L217.68,167.81 L218.09,167.49 L218.50,167.18 L218.91,166.86 L219.32,166.54 L219.73,166.22 L220.14,165.91 L220.55,165.59 L220.96,165.27 L221.37,164.96 L221.78,164.64 L222.19,164.32 L222.59,164.01 L223.00,163.69 L223.41,163.37 L223.82,163.06 L224.23,162.74 L224.64,162.43 L225.05,162.11 L225.46,161.80 L225.87,161.48 L226.28,161.17 L226.69,160.86 L227.10,160.55 L227.51,160.24 L227.92,159.93 L228.33,159.62 L228.73,159.32 L229.14,159.02 L229.55,158.72 L229.96,158.42 L230.37,158.13 L230.78,157.83 L231.19,157.55 L231.60,157.26 L232.01,156.98 L232.42,156.70 L232.83,156.42 L233.24,156.15 L233.65,155.89 L234.06,155.62 L234.47,155.36 L234.87,155.11 L235.28,154.86 L235.69,154.62 L236.10,154.38 L236.51,154.14 L236.92,153.92 L237.33,153.69 L237.74,153.47 L238.15,153.26 L238.56,153.06 L238.97,152.86 L239.38,152.67 L239.79,152.48 L240.20,152.30 L240.61,152.13 L241.02,151.97 L241.42,151.81 L241.83,151.66 L242.24,151.52 L242.65,151.38 L243.06,151.26 L243.47,151.14 L243.88,151.03 L244.29,150.93 L244.70,150.84 L245.11,150.75 L245.52,150.68 L245.93,150.61 L246.34,150.56 L246.75,150.51 L247.16,150.47 L247.56,150.45 L247.97,150.43 L248.38,150.43 L248.79,150.43 L249.20,150.44 L249.61,150.47 L250.02,150.51 L250.43,150.56 L250.84,150.61 L251.25,150.68 L251.66,150.76 L252.07,150.85 L252.48,150.95 L252.89,151.06 L253.30,151.18 L253.70,151.31 L254.11,151.45 L254.52,151.60 L254.93,151.76 L255.34,151.92 L255.75,152.10 L256.16,152.28 L256.57,152.47 L256.98,152.67 L257.39,152.88 L257.80,153.10 L258.21,153.32 L258.62,153.55 L259.03,153.79 L259.44,154.04 L259.84,154.29 L260.25,154.55 L260.66,154.82 L261.07,155.09 L261.48,155.37 L261.89,155.65 L262.30,155.94 L262.71,156.24 L263.12,156.54 L263.53,156.85 L263.94,157.17 L264.35,157.48 L264.76,157.81 L265.17,158.14 L265.58,158.47 L265.98,158.81 L266.39,159.15 L266.80,159.49 L267.21,159.84 L267.62,160.20 L268.03,160.55 L268.44,160.91 L268.85,161.28 L269.26,161.64 L269.67,162.01 L270.08,162.38 L270.49,162.76 L270.90,163.13 L271.31,163.51 L271.72,163.89 L272.13,164.28 L272.53,164.66 L272.94,165.05 L273.35,165.44 L273.76,165.83 L274.17,166.22 L274.58,166.61 L274.99,167.01 L275.40,167.41 L275.81,167.80 L276.22,168.20 L276.63,168.61 L277.04,169.01 L277.45,169.41 L277.86,169.82 L278.27,170.22 L278.67,170.63 L279.08,171.04 L279.49,171.45 L279.90,171.86 L280.31,172.27 L280.72,172.69 L281.13,173.10 L281.54,173.51 L281.95,173.93 L282.36,174.34 L282.77,174.76 L283.18,175.18 L283.59,175.60 L284.00,176.01 L284.41,176.43 L284.81,176.85 L285.22,177.27 L285.63,177.69 L286.04,178.11 L286.45,178.53 L286.86,178.95 L287.27,179.37 L287.68,179.79 L288.09,180.21 L288.50,180.63 L288.91,181.05 L289.32,181.47 L289.73,181.89 L290.14,182.30 L290.55,182.72 L290.95,183.14 L291.36,183.56 L291.77,183.98 L292.18,184.39 L292.59,184.81 L293.00,185.22 L293.41,185.64 L293.82,186.05 L294.23,186.46 L294.64,186.87 L295.05,187.29 L295.46,187.70 L295.87,188.10 L296.28,188.51 L296.69,188.92 L297.10,189.32 L297.50,189.73 L297.91,190.13 L298.32,190.53 L298.73,190.93 L299.14,191.33 L299.55,191.73 L299.96,192.12 L300.37,192.52 L300.78,192.91 L301.19,193.30 L301.60,193.69 L302.01,194.08 L302.42,194.46 L302.83,194.84 L303.24,195.22 L303.64,195.60 L304.05,195.98 L304.46,196.35 L304.87,196.73 L305.28,197.10 L305.69,197.47 L306.10,197.83 L306.51,198.19 L306.92,198.56 L307.33,198.91 L307.74,199.27 L308.15,199.63 L308.56,199.98 L308.97,200.33 L309.38,200.68 L309.78,201.02 L310.19,201.36 L310.60,201.71 L311.01,202.05 L311.42,202.38 L311.83,202.72 L312.24,203.05 L312.65,203.38 L313.06,203.71 L313.47,204.04 L313.88,204.37 L314.29,204.69 L314.70,205.01 L315.11,205.33 L315.52,205.65 L315.92,205.97 L316.33,206.28 L316.74,206.59 L317.15,206.90 L317.56,207.21 L317.97,207.52 L318.38,207.83 L318.79,208.13 L319.20,208.43 L319.61,208.73 L320.02,209.03 L320.43,209.33 L320.84,209.62 L321.25,209.92 L321.66,210.21 L322.07,210.50 L322.47,210.79 L322.88,211.08 L323.29,211.36 L323.70,211.65 L324.11,211.93 L324.52,212.21 L324.93,212.49 L325.34,212.77 L325.75,213.05 L326.16,213.33 L326.57,213.60 L326.98,213.88 L327.39,214.15 L327.80,214.42 L328.21,214.69 L328.61,214.96 L329.02,215.22 L329.43,215.49 L329.84,215.76 L330.25,216.02 L330.66,216.28 L331.07,216.54 L331.48,216.80 L331.89,217.06 L332.30,217.32 L332.71,217.58 L333.12,217.83 L333.53,218.09 L333.94,218.34 L334.35,218.59 L334.75,218.84 L335.16,219.10 L335.57,219.35 L335.98,219.59 L336.39,219.84 L336.80,220.09 L337.21,220.34 L337.62,220.58 L338.03,220.83 L338.44,221.07 L338.85,221.31 L339.26,221.55 L339.67,221.80 L340.08,222.04 L340.49,222.28 L340.89,222.52 L341.30,222.76 L341.71,222.99 L342.12,223.23 L342.53,223.47 L342.94,223.70 L343.35,223.94 L343.76,224.17 L344.17,224.41 L344.58,224.64 L344.99,224.88 L345.40,225.11 L345.81,225.34 L346.22,225.57 L346.63,225.80 L347.04,226.03 L347.44,226.27 L347.85,226.50 L348.26,226.72 L348.67,226.95 L349.08,227.18 L349.49,227.41 L349.90,227.64 L350.31,227.86 L350.72,228.09 L351.13,228.32 L351.54,228.54 L351.95,228.77 L352.36,228.99 L352.77,229.22 L353.18,229.44 L353.58,229.66 L353.99,229.88 L354.40,230.11 L354.81,230.33 L355.22,230.55 L355.63,230.77 L356.04,230.99 L356.45,231.21 L356.86,231.43 L357.27,231.65 L357.68,231.87 L358.09,232.08 L358.50,232.30 L358.91,232.52 L359.32,232.73 L359.72,232.95 L360.13,233.16 L360.54,233.38 L360.95,233.59 L361.36,233.81 L361.77,234.02 L362.18,234.23 L362.59,234.45 L363.00,234.66 L363.41,234.87 L363.82,235.08 L364.23,235.29 L364.64,235.50 L365.05,235.71 L365.46,235.92 L365.86,236.13 L366.27,236.34 L366.68,236.54 L367.09,236.75 L367.50,236.96 L367.91,237.16 L368.32,237.37 L368.73,237.58 L369.14,237.78 L369.55,237.98 L369.96,238.19 L370.37,238.39 L370.78,238.59 L371.19,238.80 L371.60,239.00 L372.01,239.20 L372.41,239.40 L372.82,239.60 L373.23,239.80 L373.64,240.00 L374.05,240.20 L374.46,240.40 L374.87,240.60 L375.28,240.80 L375.69,240.99 L376.10,241.19 L376.51,241.39 L376.92,241.58 L377.33,241.78 L377.74,241.97 L378.15,242.17 L378.55,242.36 L378.96,242.55 L379.37,242.75 L379.78,242.94 L380.19,243.13 L380.60,243.32 L381.01,243.51 L381.42,243.71 L381.83,243.90 L382.24,244.09 L382.65,244.27 L383.06,244.46 L383.47,244.65 L383.88,244.84 L384.29,245.03 L384.69,245.22 L385.10,245.40 L385.51,245.59 L385.92,245.77 L386.33,245.96 L386.74,246.14 L387.15,246.33 L387.56,246.51 L387.97,246.70 L388.38,246.88 L388.79,247.06 L389.20,247.24 L389.61,247.42 L390.02,247.61 L390.43,247.79 L390.83,247.97 L391.24,248.15 L391.65,248.33 L392.06,248.51 L392.47,248.68 L392.88,248.86 L393.29,249.04 L393.70,249.22 L394.11,249.39 L394.52,249.57 L394.93,249.75 L395.34,249.92 L395.75,250.10 L396.16,250.27 L396.57,250.44 L396.97,250.62 L397.38,250.79 L397.79,250.96 L398.20,251.14 L398.61,251.31 L399.02,251.48 L399.43,251.65 L399.84,251.82 L400.25,251.99 L400.66,252.16 L401.07,252.33 L401.48,252.50 L401.89,252.67 L402.30,252.83 L402.71,253.00 L403.12,253.17 L403.52,253.33 L403.93,253.50 L404.34,253.67 L404.75,253.83 L405.16,254.00 L405.57,254.16 L405.98,254.32 L406.39,254.49 L406.80,254.65 L407.21,254.81 L407.62,254.98 L408.03,255.14 L408.44,255.30 L408.85,255.46 L409.26,255.62 L409.66,255.78 L410.07,255.94 L410.48,256.10 L410.89,256.26 L411.30,256.42 L411.71,256.57 L412.12,256.73 L412.53,256.89 L412.94,257.04 L413.35,257.20 L413.76,257.36 L414.17,257.51 L414.58,257.67 L414.99,257.82 L415.40,257.97 L415.80,258.13 L416.21,258.28 L416.62,258.43 L417.03,258.59 L417.44,258.74 L417.85,258.89 L418.26,259.04 L418.67,259.19 L419.08,259.34 L419.49,259.49 L419.90,259.64 L420.31,259.79 L420.72,259.94 L421.13,260.09 L421.54,260.23 L421.94,260.38 L422.35,260.53 L422.76,260.67 L423.17,260.82 L423.58,260.97 L423.99,261.11 L424.40,261.25 L424.81,261.40 L425.22,261.54 L425.63,261.69 L426.04,261.83 L426.45,261.97 L426.86,262.11 L427.27,262.26 L427.68,262.40 L428.09,262.54 L428.49,262.68 L428.90,262.82 L429.31,262.96 L429.72,263.10 L430.13,263.24 L430.54,263.38 L430.95,263.51 L431.36,263.65 L431.77,263.79 L432.18,263.93 L432.59,264.06 L433.00,264.20 L433.41,264.33 L433.82,264.47 L434.23,264.60 L434.63,264.74 L435.04,264.87 L435.45,265.00 L435.86,265.14 L436.27,265.27 L436.68,265.40 L437.09,265.54 L437.50,265.67" stroke="#0000ff" stroke-dasharray="4.8 4.96" stroke-dashoffset="0.8"/>
</g>
<rect x="69.50" y="16.93" width="368.00" height="261.50" fill="none" stroke="#000" stroke-width="1"/>
<path d="M382.10,28.08 H421.00" stroke="#ff0000" stroke-width="1.30" fill="none"/>
<path d="M382.10,42.16 H421.00" stroke="#ffa500" stroke-width="1.30" fill="none"/>
<path d="M382.10,56.24 H421.00" stroke="#0000ff" stroke-width="1.30" fill="none"/>
<path d="M382.10,70.32 H421.00" stroke="#000" stroke-width="1.30" fill="none"/>
<path d="M382.10,84.40 H421.00" stroke="#000" stroke-width="1.30" fill="none" stroke-dasharray="4.8 4.96"/>
<g font-family="'Liberation Serif', serif" fill="#000" style="font-kerning:none;will-change:transform;opacity:0.999;text-rendering:geometricPrecision">
<text transform="translate(61.056,296.804) scale(1.0321,1)" font-size="13.840">0.7</text>
<text transform="translate(149.158,296.804) scale(1.0280,1)" font-size="13.840">0.75</text>
<text transform="translate(244.339,296.804) scale(1.0649,1)" font-size="13.840">0.8</text>
<text transform="translate(333.206,296.804) scale(1.0323,1)" font-size="13.840">0.85</text>
<text transform="translate(428.594,296.804) scale(1.0552,1)" font-size="13.840">0.9</text>
<text transform="translate(31.903,282.245) scale(1.0652,1)" font-size="13.856">10</text>
<text transform="translate(54.036,277.338) scale(1.3989,1)" font-size="9.405">5</text>
<text transform="translate(31.903,215.245) scale(1.0652,1)" font-size="13.856">10</text>
<text transform="translate(54.577,210.430) scale(1.2007,1)" font-size="9.496">4</text>
<text transform="translate(31.903,148.245) scale(1.0652,1)" font-size="13.856">10</text>
<text transform="translate(54.186,143.339) scale(1.3793,1)" font-size="9.302">3</text>
<text transform="translate(31.903,81.245) scale(1.0652,1)" font-size="13.856">10</text>
<text transform="translate(54.219,76.430) scale(1.4006,1)" font-size="9.440">2</text>
<text transform="translate(355.639,31.861) scale(1.1061,1)" font-size="13.325">0.8</text>
<text transform="translate(355.638,45.911) scale(1.1070,1)" font-size="13.325">0.3</text>
<text transform="translate(355.630,59.961) scale(1.1224,1)" font-size="13.325">0.2</text>
<text transform="translate(326.334,31.800) scale(1.2686,1)" font-size="14.050" font-style="italic">T</text>
<text transform="translate(334.157,73.910) scale(1.0697,1)" font-size="14.371">Re</text>
<text transform="translate(351.990,74.004) scale(1.0918,1)" font-size="14.074" font-style="italic">ρ</text>
<text transform="translate(359.036,75.700) scale(1.1004,1)" font-size="9.968">12</text>
<text transform="translate(334.051,88.000) scale(1.0589,1)" font-size="14.356">Im</text>
<text transform="translate(351.990,88.104) scale(1.0918,1)" font-size="14.074" font-style="italic">ρ</text>
<text transform="translate(359.036,89.800) scale(1.1004,1)" font-size="9.968">12</text>
<text transform="translate(236.474,316.960) scale(0.9976,1)" font-size="14.346" font-style="italic">ϵ</text>
<text transform="translate(252.540,316.959) scale(1.1689,1)" font-size="14.420" font-style="italic">ω</text>
<text transform="translate(264.147,319.400) scale(1.3986,1)" font-size="9.762" font-style="italic">r</text>
<text transform="rotate(-90) translate(-157.830,14.980) scale(1.0892,1)" font-size="17.006" font-style="italic">ρ</text>
<text transform="rotate(-90) translate(-148.546,17.600) scale(0.9730,1)" font-size="12.234">12</text>
</g>
<g stroke="#000" stroke-width="0.65" fill="none">
<path d="M47.6,274.13 H54.1"/>
<path d="M47.6,207.13 H54.1"/>
<path d="M47.6,140.13 H54.1"/>
<path d="M47.6,73.13 H54.1"/>
<path d="M342.3,26.4 H351.3 M342.3,29.7 H351.3"/>
<path d="M244.3,322.5 L251.1,305.1" stroke-width="0.75"/>
<path d="M332.7,63.4 V91.4 M372.0,63.4 V91.4" stroke-width="0.55"/>
</g>
</svg>
</body></html>
